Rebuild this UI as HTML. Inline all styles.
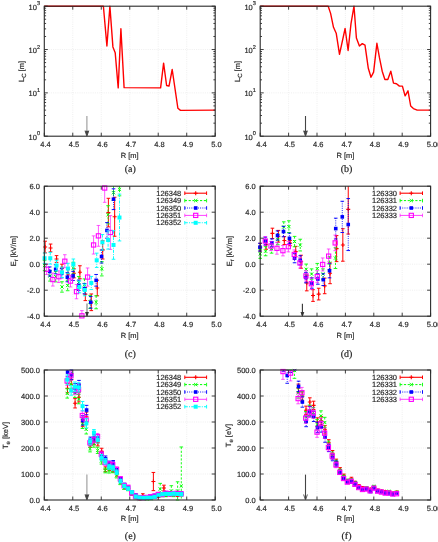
<!DOCTYPE html>
<html><head><meta charset="utf-8"><style>html,body{margin:0;padding:0;background:#fff;}text{stroke:#333;stroke-width:0.18px;}body{width:438px;height:542px;overflow:hidden;}svg{display:block;will-change:transform;filter:blur(0.3px);}</style></head><body><svg width="438" height="542" viewBox="0 0 438 542" text-rendering="geometricPrecision">
<rect width="438" height="542" fill="#fff"/>
<line x1="72.78" y1="6.20" x2="72.78" y2="136.20" stroke="#e4e4e4" stroke-width="0.6" stroke-dasharray="1,1.2"/>
<line x1="101.27" y1="6.20" x2="101.27" y2="136.20" stroke="#e4e4e4" stroke-width="0.6" stroke-dasharray="1,1.2"/>
<line x1="129.75" y1="6.20" x2="129.75" y2="136.20" stroke="#e4e4e4" stroke-width="0.6" stroke-dasharray="1,1.2"/>
<line x1="158.23" y1="6.20" x2="158.23" y2="136.20" stroke="#e4e4e4" stroke-width="0.6" stroke-dasharray="1,1.2"/>
<line x1="186.72" y1="6.20" x2="186.72" y2="136.20" stroke="#e4e4e4" stroke-width="0.6" stroke-dasharray="1,1.2"/>
<line x1="44.30" y1="92.87" x2="215.20" y2="92.87" stroke="#e4e4e4" stroke-width="0.6" stroke-dasharray="1,1.2"/>
<line x1="44.30" y1="49.53" x2="215.20" y2="49.53" stroke="#e4e4e4" stroke-width="0.6" stroke-dasharray="1,1.2"/>
<text x="45.50" y="146.80" font-family='"Liberation Sans", sans-serif' font-size="7.5" text-anchor="middle" fill="#222" >4.4</text>
<text x="73.98" y="146.80" font-family='"Liberation Sans", sans-serif' font-size="7.5" text-anchor="middle" fill="#222" >4.5</text>
<text x="102.47" y="146.80" font-family='"Liberation Sans", sans-serif' font-size="7.5" text-anchor="middle" fill="#222" >4.6</text>
<text x="130.95" y="146.80" font-family='"Liberation Sans", sans-serif' font-size="7.5" text-anchor="middle" fill="#222" >4.7</text>
<text x="159.43" y="146.80" font-family='"Liberation Sans", sans-serif' font-size="7.5" text-anchor="middle" fill="#222" >4.8</text>
<text x="187.92" y="146.80" font-family='"Liberation Sans", sans-serif' font-size="7.5" text-anchor="middle" fill="#222" >4.9</text>
<text x="216.40" y="146.80" font-family='"Liberation Sans", sans-serif' font-size="7.5" text-anchor="middle" fill="#222" >5.0</text>
<text x="40.00" y="139.70" font-family='"Liberation Sans", sans-serif' font-size="7.5" text-anchor="end" fill="#222">10<tspan font-size="5.6" dy="-4.3">0</tspan></text>
<text x="40.00" y="96.37" font-family='"Liberation Sans", sans-serif' font-size="7.5" text-anchor="end" fill="#222">10<tspan font-size="5.6" dy="-4.3">1</tspan></text>
<text x="40.00" y="53.03" font-family='"Liberation Sans", sans-serif' font-size="7.5" text-anchor="end" fill="#222">10<tspan font-size="5.6" dy="-4.3">2</tspan></text>
<text x="40.00" y="9.70" font-family='"Liberation Sans", sans-serif' font-size="7.5" text-anchor="end" fill="#222">10<tspan font-size="5.6" dy="-4.3">3</tspan></text>
<text x="129.75" y="157.60" font-family='"Liberation Sans", sans-serif' font-size="7.5" text-anchor="middle" fill="#222" >R [m]</text>
<line x1="288.60" y1="6.20" x2="288.60" y2="136.20" stroke="#e4e4e4" stroke-width="0.6" stroke-dasharray="1,1.2"/>
<line x1="317.00" y1="6.20" x2="317.00" y2="136.20" stroke="#e4e4e4" stroke-width="0.6" stroke-dasharray="1,1.2"/>
<line x1="345.40" y1="6.20" x2="345.40" y2="136.20" stroke="#e4e4e4" stroke-width="0.6" stroke-dasharray="1,1.2"/>
<line x1="373.80" y1="6.20" x2="373.80" y2="136.20" stroke="#e4e4e4" stroke-width="0.6" stroke-dasharray="1,1.2"/>
<line x1="402.20" y1="6.20" x2="402.20" y2="136.20" stroke="#e4e4e4" stroke-width="0.6" stroke-dasharray="1,1.2"/>
<line x1="260.20" y1="92.87" x2="430.60" y2="92.87" stroke="#e4e4e4" stroke-width="0.6" stroke-dasharray="1,1.2"/>
<line x1="260.20" y1="49.53" x2="430.60" y2="49.53" stroke="#e4e4e4" stroke-width="0.6" stroke-dasharray="1,1.2"/>
<text x="261.40" y="146.80" font-family='"Liberation Sans", sans-serif' font-size="7.5" text-anchor="middle" fill="#222" >4.4</text>
<text x="289.80" y="146.80" font-family='"Liberation Sans", sans-serif' font-size="7.5" text-anchor="middle" fill="#222" >4.5</text>
<text x="318.20" y="146.80" font-family='"Liberation Sans", sans-serif' font-size="7.5" text-anchor="middle" fill="#222" >4.6</text>
<text x="346.60" y="146.80" font-family='"Liberation Sans", sans-serif' font-size="7.5" text-anchor="middle" fill="#222" >4.7</text>
<text x="375.00" y="146.80" font-family='"Liberation Sans", sans-serif' font-size="7.5" text-anchor="middle" fill="#222" >4.8</text>
<text x="403.40" y="146.80" font-family='"Liberation Sans", sans-serif' font-size="7.5" text-anchor="middle" fill="#222" >4.9</text>
<text x="434.10" y="146.80" font-family='"Liberation Sans", sans-serif' font-size="7.5" text-anchor="middle" fill="#222" >5.00</text>
<text x="255.90" y="139.70" font-family='"Liberation Sans", sans-serif' font-size="7.5" text-anchor="end" fill="#222">10<tspan font-size="5.6" dy="-4.3">0</tspan></text>
<text x="255.90" y="96.37" font-family='"Liberation Sans", sans-serif' font-size="7.5" text-anchor="end" fill="#222">10<tspan font-size="5.6" dy="-4.3">1</tspan></text>
<text x="255.90" y="53.03" font-family='"Liberation Sans", sans-serif' font-size="7.5" text-anchor="end" fill="#222">10<tspan font-size="5.6" dy="-4.3">2</tspan></text>
<text x="255.90" y="9.70" font-family='"Liberation Sans", sans-serif' font-size="7.5" text-anchor="end" fill="#222">10<tspan font-size="5.6" dy="-4.3">3</tspan></text>
<text x="345.40" y="157.60" font-family='"Liberation Sans", sans-serif' font-size="7.5" text-anchor="middle" fill="#222" >R [m]</text>
<line x1="72.78" y1="186.20" x2="72.78" y2="316.20" stroke="#e4e4e4" stroke-width="0.6" stroke-dasharray="1,1.2"/>
<line x1="101.27" y1="186.20" x2="101.27" y2="316.20" stroke="#e4e4e4" stroke-width="0.6" stroke-dasharray="1,1.2"/>
<line x1="129.75" y1="186.20" x2="129.75" y2="316.20" stroke="#e4e4e4" stroke-width="0.6" stroke-dasharray="1,1.2"/>
<line x1="158.23" y1="186.20" x2="158.23" y2="316.20" stroke="#e4e4e4" stroke-width="0.6" stroke-dasharray="1,1.2"/>
<line x1="186.72" y1="186.20" x2="186.72" y2="316.20" stroke="#e4e4e4" stroke-width="0.6" stroke-dasharray="1,1.2"/>
<line x1="44.30" y1="290.20" x2="215.20" y2="290.20" stroke="#e4e4e4" stroke-width="0.6" stroke-dasharray="1,1.2"/>
<line x1="44.30" y1="264.20" x2="215.20" y2="264.20" stroke="#e4e4e4" stroke-width="0.6" stroke-dasharray="1,1.2"/>
<line x1="44.30" y1="238.20" x2="215.20" y2="238.20" stroke="#e4e4e4" stroke-width="0.6" stroke-dasharray="1,1.2"/>
<line x1="44.30" y1="212.20" x2="215.20" y2="212.20" stroke="#e4e4e4" stroke-width="0.6" stroke-dasharray="1,1.2"/>
<text x="45.50" y="326.80" font-family='"Liberation Sans", sans-serif' font-size="7.5" text-anchor="middle" fill="#222" >4.4</text>
<text x="73.98" y="326.80" font-family='"Liberation Sans", sans-serif' font-size="7.5" text-anchor="middle" fill="#222" >4.5</text>
<text x="102.47" y="326.80" font-family='"Liberation Sans", sans-serif' font-size="7.5" text-anchor="middle" fill="#222" >4.6</text>
<text x="130.95" y="326.80" font-family='"Liberation Sans", sans-serif' font-size="7.5" text-anchor="middle" fill="#222" >4.7</text>
<text x="159.43" y="326.80" font-family='"Liberation Sans", sans-serif' font-size="7.5" text-anchor="middle" fill="#222" >4.8</text>
<text x="187.92" y="326.80" font-family='"Liberation Sans", sans-serif' font-size="7.5" text-anchor="middle" fill="#222" >4.9</text>
<text x="216.40" y="326.80" font-family='"Liberation Sans", sans-serif' font-size="7.5" text-anchor="middle" fill="#222" >5.0</text>
<text x="39.90" y="319.40" font-family='"Liberation Sans", sans-serif' font-size="7.5" text-anchor="end" fill="#222" >-4.0</text>
<text x="39.90" y="293.40" font-family='"Liberation Sans", sans-serif' font-size="7.5" text-anchor="end" fill="#222" >-2.0</text>
<text x="39.90" y="267.40" font-family='"Liberation Sans", sans-serif' font-size="7.5" text-anchor="end" fill="#222" >0.0</text>
<text x="39.90" y="241.40" font-family='"Liberation Sans", sans-serif' font-size="7.5" text-anchor="end" fill="#222" >2.0</text>
<text x="39.90" y="215.40" font-family='"Liberation Sans", sans-serif' font-size="7.5" text-anchor="end" fill="#222" >4.0</text>
<text x="39.90" y="189.40" font-family='"Liberation Sans", sans-serif' font-size="7.5" text-anchor="end" fill="#222" >6.0</text>
<text x="129.75" y="337.60" font-family='"Liberation Sans", sans-serif' font-size="7.5" text-anchor="middle" fill="#222" >R [m]</text>
<line x1="288.60" y1="186.20" x2="288.60" y2="316.20" stroke="#e4e4e4" stroke-width="0.6" stroke-dasharray="1,1.2"/>
<line x1="317.00" y1="186.20" x2="317.00" y2="316.20" stroke="#e4e4e4" stroke-width="0.6" stroke-dasharray="1,1.2"/>
<line x1="345.40" y1="186.20" x2="345.40" y2="316.20" stroke="#e4e4e4" stroke-width="0.6" stroke-dasharray="1,1.2"/>
<line x1="373.80" y1="186.20" x2="373.80" y2="316.20" stroke="#e4e4e4" stroke-width="0.6" stroke-dasharray="1,1.2"/>
<line x1="402.20" y1="186.20" x2="402.20" y2="316.20" stroke="#e4e4e4" stroke-width="0.6" stroke-dasharray="1,1.2"/>
<line x1="260.20" y1="290.20" x2="430.60" y2="290.20" stroke="#e4e4e4" stroke-width="0.6" stroke-dasharray="1,1.2"/>
<line x1="260.20" y1="264.20" x2="430.60" y2="264.20" stroke="#e4e4e4" stroke-width="0.6" stroke-dasharray="1,1.2"/>
<line x1="260.20" y1="238.20" x2="430.60" y2="238.20" stroke="#e4e4e4" stroke-width="0.6" stroke-dasharray="1,1.2"/>
<line x1="260.20" y1="212.20" x2="430.60" y2="212.20" stroke="#e4e4e4" stroke-width="0.6" stroke-dasharray="1,1.2"/>
<text x="261.40" y="326.80" font-family='"Liberation Sans", sans-serif' font-size="7.5" text-anchor="middle" fill="#222" >4.4</text>
<text x="289.80" y="326.80" font-family='"Liberation Sans", sans-serif' font-size="7.5" text-anchor="middle" fill="#222" >4.5</text>
<text x="318.20" y="326.80" font-family='"Liberation Sans", sans-serif' font-size="7.5" text-anchor="middle" fill="#222" >4.6</text>
<text x="346.60" y="326.80" font-family='"Liberation Sans", sans-serif' font-size="7.5" text-anchor="middle" fill="#222" >4.7</text>
<text x="375.00" y="326.80" font-family='"Liberation Sans", sans-serif' font-size="7.5" text-anchor="middle" fill="#222" >4.8</text>
<text x="403.40" y="326.80" font-family='"Liberation Sans", sans-serif' font-size="7.5" text-anchor="middle" fill="#222" >4.9</text>
<text x="434.10" y="326.80" font-family='"Liberation Sans", sans-serif' font-size="7.5" text-anchor="middle" fill="#222" >5.00</text>
<text x="255.80" y="319.40" font-family='"Liberation Sans", sans-serif' font-size="7.5" text-anchor="end" fill="#222" >-4.0</text>
<text x="255.80" y="293.40" font-family='"Liberation Sans", sans-serif' font-size="7.5" text-anchor="end" fill="#222" >-2.0</text>
<text x="255.80" y="267.40" font-family='"Liberation Sans", sans-serif' font-size="7.5" text-anchor="end" fill="#222" >0.0</text>
<text x="255.80" y="241.40" font-family='"Liberation Sans", sans-serif' font-size="7.5" text-anchor="end" fill="#222" >2.0</text>
<text x="255.80" y="215.40" font-family='"Liberation Sans", sans-serif' font-size="7.5" text-anchor="end" fill="#222" >4.0</text>
<text x="255.80" y="189.40" font-family='"Liberation Sans", sans-serif' font-size="7.5" text-anchor="end" fill="#222" >6.0</text>
<text x="345.40" y="337.60" font-family='"Liberation Sans", sans-serif' font-size="7.5" text-anchor="middle" fill="#222" >R [m]</text>
<line x1="72.78" y1="370.00" x2="72.78" y2="500.00" stroke="#e4e4e4" stroke-width="0.6" stroke-dasharray="1,1.2"/>
<line x1="101.27" y1="370.00" x2="101.27" y2="500.00" stroke="#e4e4e4" stroke-width="0.6" stroke-dasharray="1,1.2"/>
<line x1="129.75" y1="370.00" x2="129.75" y2="500.00" stroke="#e4e4e4" stroke-width="0.6" stroke-dasharray="1,1.2"/>
<line x1="158.23" y1="370.00" x2="158.23" y2="500.00" stroke="#e4e4e4" stroke-width="0.6" stroke-dasharray="1,1.2"/>
<line x1="186.72" y1="370.00" x2="186.72" y2="500.00" stroke="#e4e4e4" stroke-width="0.6" stroke-dasharray="1,1.2"/>
<line x1="44.30" y1="474.00" x2="215.20" y2="474.00" stroke="#e4e4e4" stroke-width="0.6" stroke-dasharray="1,1.2"/>
<line x1="44.30" y1="448.00" x2="215.20" y2="448.00" stroke="#e4e4e4" stroke-width="0.6" stroke-dasharray="1,1.2"/>
<line x1="44.30" y1="422.00" x2="215.20" y2="422.00" stroke="#e4e4e4" stroke-width="0.6" stroke-dasharray="1,1.2"/>
<line x1="44.30" y1="396.00" x2="215.20" y2="396.00" stroke="#e4e4e4" stroke-width="0.6" stroke-dasharray="1,1.2"/>
<text x="45.50" y="510.60" font-family='"Liberation Sans", sans-serif' font-size="7.5" text-anchor="middle" fill="#222" >4.4</text>
<text x="73.98" y="510.60" font-family='"Liberation Sans", sans-serif' font-size="7.5" text-anchor="middle" fill="#222" >4.5</text>
<text x="102.47" y="510.60" font-family='"Liberation Sans", sans-serif' font-size="7.5" text-anchor="middle" fill="#222" >4.6</text>
<text x="130.95" y="510.60" font-family='"Liberation Sans", sans-serif' font-size="7.5" text-anchor="middle" fill="#222" >4.7</text>
<text x="159.43" y="510.60" font-family='"Liberation Sans", sans-serif' font-size="7.5" text-anchor="middle" fill="#222" >4.8</text>
<text x="187.92" y="510.60" font-family='"Liberation Sans", sans-serif' font-size="7.5" text-anchor="middle" fill="#222" >4.9</text>
<text x="216.40" y="510.60" font-family='"Liberation Sans", sans-serif' font-size="7.5" text-anchor="middle" fill="#222" >5.0</text>
<text x="39.90" y="503.20" font-family='"Liberation Sans", sans-serif' font-size="7.5" text-anchor="end" fill="#222" >0.0</text>
<text x="39.90" y="477.20" font-family='"Liberation Sans", sans-serif' font-size="7.5" text-anchor="end" fill="#222" >100.0</text>
<text x="39.90" y="451.20" font-family='"Liberation Sans", sans-serif' font-size="7.5" text-anchor="end" fill="#222" >200.0</text>
<text x="39.90" y="425.20" font-family='"Liberation Sans", sans-serif' font-size="7.5" text-anchor="end" fill="#222" >300.0</text>
<text x="39.90" y="399.20" font-family='"Liberation Sans", sans-serif' font-size="7.5" text-anchor="end" fill="#222" >400.0</text>
<text x="39.90" y="373.20" font-family='"Liberation Sans", sans-serif' font-size="7.5" text-anchor="end" fill="#222" >500.0</text>
<text x="129.75" y="521.40" font-family='"Liberation Sans", sans-serif' font-size="7.5" text-anchor="middle" fill="#222" >R [m]</text>
<line x1="288.60" y1="370.00" x2="288.60" y2="500.00" stroke="#e4e4e4" stroke-width="0.6" stroke-dasharray="1,1.2"/>
<line x1="317.00" y1="370.00" x2="317.00" y2="500.00" stroke="#e4e4e4" stroke-width="0.6" stroke-dasharray="1,1.2"/>
<line x1="345.40" y1="370.00" x2="345.40" y2="500.00" stroke="#e4e4e4" stroke-width="0.6" stroke-dasharray="1,1.2"/>
<line x1="373.80" y1="370.00" x2="373.80" y2="500.00" stroke="#e4e4e4" stroke-width="0.6" stroke-dasharray="1,1.2"/>
<line x1="402.20" y1="370.00" x2="402.20" y2="500.00" stroke="#e4e4e4" stroke-width="0.6" stroke-dasharray="1,1.2"/>
<line x1="260.20" y1="474.00" x2="430.60" y2="474.00" stroke="#e4e4e4" stroke-width="0.6" stroke-dasharray="1,1.2"/>
<line x1="260.20" y1="448.00" x2="430.60" y2="448.00" stroke="#e4e4e4" stroke-width="0.6" stroke-dasharray="1,1.2"/>
<line x1="260.20" y1="422.00" x2="430.60" y2="422.00" stroke="#e4e4e4" stroke-width="0.6" stroke-dasharray="1,1.2"/>
<line x1="260.20" y1="396.00" x2="430.60" y2="396.00" stroke="#e4e4e4" stroke-width="0.6" stroke-dasharray="1,1.2"/>
<text x="261.40" y="510.60" font-family='"Liberation Sans", sans-serif' font-size="7.5" text-anchor="middle" fill="#222" >4.4</text>
<text x="289.80" y="510.60" font-family='"Liberation Sans", sans-serif' font-size="7.5" text-anchor="middle" fill="#222" >4.5</text>
<text x="318.20" y="510.60" font-family='"Liberation Sans", sans-serif' font-size="7.5" text-anchor="middle" fill="#222" >4.6</text>
<text x="346.60" y="510.60" font-family='"Liberation Sans", sans-serif' font-size="7.5" text-anchor="middle" fill="#222" >4.7</text>
<text x="375.00" y="510.60" font-family='"Liberation Sans", sans-serif' font-size="7.5" text-anchor="middle" fill="#222" >4.8</text>
<text x="403.40" y="510.60" font-family='"Liberation Sans", sans-serif' font-size="7.5" text-anchor="middle" fill="#222" >4.9</text>
<text x="434.10" y="510.60" font-family='"Liberation Sans", sans-serif' font-size="7.5" text-anchor="middle" fill="#222" >5.00</text>
<text x="255.80" y="503.20" font-family='"Liberation Sans", sans-serif' font-size="7.5" text-anchor="end" fill="#222" >0.0</text>
<text x="255.80" y="477.20" font-family='"Liberation Sans", sans-serif' font-size="7.5" text-anchor="end" fill="#222" >100.0</text>
<text x="255.80" y="451.20" font-family='"Liberation Sans", sans-serif' font-size="7.5" text-anchor="end" fill="#222" >200.0</text>
<text x="255.80" y="425.20" font-family='"Liberation Sans", sans-serif' font-size="7.5" text-anchor="end" fill="#222" >300.0</text>
<text x="255.80" y="399.20" font-family='"Liberation Sans", sans-serif' font-size="7.5" text-anchor="end" fill="#222" >400.0</text>
<text x="255.80" y="373.20" font-family='"Liberation Sans", sans-serif' font-size="7.5" text-anchor="end" fill="#222" >500.0</text>
<text x="345.40" y="521.40" font-family='"Liberation Sans", sans-serif' font-size="7.5" text-anchor="middle" fill="#222" >R [m]</text>
<defs>
<clipPath id="cla"><rect x="41.3" y="3.2" width="176.89999999999998" height="136.0"/></clipPath>
<clipPath id="clb"><rect x="257.2" y="3.2" width="176.40000000000003" height="136.0"/></clipPath>
<clipPath id="clc"><rect x="41.3" y="183.2" width="176.89999999999998" height="136.0"/></clipPath>
<clipPath id="cld"><rect x="257.2" y="183.2" width="176.40000000000003" height="136.0"/></clipPath>
<clipPath id="cle"><rect x="41.3" y="367.0" width="176.89999999999998" height="136.0"/></clipPath>
<clipPath id="clf"><rect x="257.2" y="367.0" width="176.40000000000003" height="136.0"/></clipPath>
</defs>
<g clip-path="url(#cla)">
<polyline points="44.3,6.2 103.4,6.2 106.9,46.0 109.9,6.2 112.9,46.9 115.2,52.8 118.2,87.9 120.9,28.8 124.1,87.6 160.6,87.9 163.6,63.2 166.6,85.5 169.0,86.1 172.2,69.5 177.9,108.3 180.5,110.4 215.2,110.1" fill="none" stroke="#ff0000" stroke-width="1.4" stroke-linejoin="round"/>
</g>
<g clip-path="url(#clb)">
<polyline points="260.2,6.2 328.2,6.2 330.6,13.4 333.5,27.3 336.2,33.2 339.5,54.3 345.1,28.5 348.1,50.5 351.0,23.7 354.0,6.2 356.4,38.0 359.4,46.0 362.3,43.6 365.0,45.1 368.3,68.3 371.0,77.2 373.6,72.1 376.9,43.3 379.5,57.9 382.2,71.2 384.9,79.5 387.8,79.5 390.8,71.2 393.5,83.1 396.5,83.7 399.4,86.1 402.4,86.1 405.1,95.9 408.0,90.8 410.7,106.0 413.4,108.6 417.2,110.1 430.6,110.1" fill="none" stroke="#ff0000" stroke-width="1.4" stroke-linejoin="round"/>
</g>
<g clip-path="url(#clc)">
<path d="M45.15 241.19V252.89" stroke="#ff0000" stroke-width="1.0"  fill="none"/>
<path d="M43.35 241.19h3.6M43.35 252.89h3.6" stroke="#ff0000" stroke-width="1.0" fill="none"/>
<path d="M50.57 244.05V251.85" stroke="#ff0000" stroke-width="1.0"  fill="none"/>
<path d="M48.77 244.05h3.6M48.77 251.85h3.6" stroke="#ff0000" stroke-width="1.0" fill="none"/>
<path d="M56.55 255.62V262.38" stroke="#ff0000" stroke-width="1.0"  fill="none"/>
<path d="M54.75 255.62h3.6M54.75 262.38h3.6" stroke="#ff0000" stroke-width="1.0" fill="none"/>
<path d="M61.96 264.20V272.00" stroke="#ff0000" stroke-width="1.0"  fill="none"/>
<path d="M60.16 264.20h3.6M60.16 272.00h3.6" stroke="#ff0000" stroke-width="1.0" fill="none"/>
<path d="M67.94 269.40V278.50" stroke="#ff0000" stroke-width="1.0"  fill="none"/>
<path d="M66.14 269.40h3.6M66.14 278.50h3.6" stroke="#ff0000" stroke-width="1.0" fill="none"/>
<path d="M73.92 268.75V277.85" stroke="#ff0000" stroke-width="1.0"  fill="none"/>
<path d="M72.12 268.75h3.6M72.12 277.85h3.6" stroke="#ff0000" stroke-width="1.0" fill="none"/>
<path d="M79.90 265.76V278.76" stroke="#ff0000" stroke-width="1.0"  fill="none"/>
<path d="M78.10 265.76h3.6M78.10 278.76h3.6" stroke="#ff0000" stroke-width="1.0" fill="none"/>
<path d="M85.32 287.60V300.60" stroke="#ff0000" stroke-width="1.0"  fill="none"/>
<path d="M83.52 287.60h3.6M83.52 300.60h3.6" stroke="#ff0000" stroke-width="1.0" fill="none"/>
<path d="M91.30 293.97V310.61" stroke="#ff0000" stroke-width="1.0"  fill="none"/>
<path d="M89.50 293.97h3.6M89.50 310.61h3.6" stroke="#ff0000" stroke-width="1.0" fill="none"/>
<path d="M97.28 280.19V295.79" stroke="#ff0000" stroke-width="1.0"  fill="none"/>
<path d="M95.48 280.19h3.6M95.48 295.79h3.6" stroke="#ff0000" stroke-width="1.0" fill="none"/>
<path d="M102.69 240.80V259.00" stroke="#ff0000" stroke-width="1.0"  fill="none"/>
<path d="M100.89 240.80h3.6M100.89 259.00h3.6" stroke="#ff0000" stroke-width="1.0" fill="none"/>
<path d="M108.39 198.29V226.89" stroke="#ff0000" stroke-width="1.0"  fill="none"/>
<path d="M106.59 198.29h3.6M106.59 226.89h3.6" stroke="#ff0000" stroke-width="1.0" fill="none"/>
<path d="M114.65 197.25V236.25" stroke="#ff0000" stroke-width="1.0"  fill="none"/>
<path d="M112.85 197.25h3.6M112.85 236.25h3.6" stroke="#ff0000" stroke-width="1.0" fill="none"/>
<path d="M43.15 247.04h4M45.15 245.04v4" stroke="#ff0000" stroke-width="1.1"/>
<path d="M48.57 247.95h4M50.57 245.95v4" stroke="#ff0000" stroke-width="1.1"/>
<path d="M54.55 259.00h4M56.55 257.00v4" stroke="#ff0000" stroke-width="1.1"/>
<path d="M59.96 268.10h4M61.96 266.10v4" stroke="#ff0000" stroke-width="1.1"/>
<path d="M65.94 273.95h4M67.94 271.95v4" stroke="#ff0000" stroke-width="1.1"/>
<path d="M71.92 273.30h4M73.92 271.30v4" stroke="#ff0000" stroke-width="1.1"/>
<path d="M77.90 272.26h4M79.90 270.26v4" stroke="#ff0000" stroke-width="1.1"/>
<path d="M83.32 294.10h4M85.32 292.10v4" stroke="#ff0000" stroke-width="1.1"/>
<path d="M89.30 302.29h4M91.30 300.29v4" stroke="#ff0000" stroke-width="1.1"/>
<path d="M95.28 287.99h4M97.28 285.99v4" stroke="#ff0000" stroke-width="1.1"/>
<path d="M100.69 249.90h4M102.69 247.90v4" stroke="#ff0000" stroke-width="1.1"/>
<path d="M106.39 212.59h4M108.39 210.59v4" stroke="#ff0000" stroke-width="1.1"/>
<path d="M112.65 216.75h4M114.65 214.75v4" stroke="#ff0000" stroke-width="1.1"/>
<path d="M44.58 260.30V270.70" stroke="#00ff00" stroke-width="0.9" stroke-dasharray="2.2,1.6" fill="none"/>
<path d="M42.78 260.30h3.6M42.78 270.70h3.6" stroke="#00ff00" stroke-width="0.9" fill="none"/>
<path d="M50.00 270.70V281.10" stroke="#00ff00" stroke-width="0.9" stroke-dasharray="2.2,1.6" fill="none"/>
<path d="M48.20 270.70h3.6M48.20 281.10h3.6" stroke="#00ff00" stroke-width="0.9" fill="none"/>
<path d="M55.69 271.48V281.88" stroke="#00ff00" stroke-width="0.9" stroke-dasharray="2.2,1.6" fill="none"/>
<path d="M53.89 271.48h3.6M53.89 281.88h3.6" stroke="#00ff00" stroke-width="0.9" fill="none"/>
<path d="M61.96 281.75V292.15" stroke="#00ff00" stroke-width="0.9" stroke-dasharray="2.2,1.6" fill="none"/>
<path d="M60.16 281.75h3.6M60.16 292.15h3.6" stroke="#00ff00" stroke-width="0.9" fill="none"/>
<path d="M67.66 280.32V290.72" stroke="#00ff00" stroke-width="0.9" stroke-dasharray="2.2,1.6" fill="none"/>
<path d="M65.86 280.32h3.6M65.86 290.72h3.6" stroke="#00ff00" stroke-width="0.9" fill="none"/>
<path d="M73.35 262.25V273.95" stroke="#00ff00" stroke-width="0.9" stroke-dasharray="2.2,1.6" fill="none"/>
<path d="M71.55 262.25h3.6M71.55 273.95h3.6" stroke="#00ff00" stroke-width="0.9" fill="none"/>
<path d="M78.76 276.55V288.25" stroke="#00ff00" stroke-width="0.9" stroke-dasharray="2.2,1.6" fill="none"/>
<path d="M76.96 276.55h3.6M76.96 288.25h3.6" stroke="#00ff00" stroke-width="0.9" fill="none"/>
<path d="M84.46 278.89V290.59" stroke="#00ff00" stroke-width="0.9" stroke-dasharray="2.2,1.6" fill="none"/>
<path d="M82.66 278.89h3.6M82.66 290.59h3.6" stroke="#00ff00" stroke-width="0.9" fill="none"/>
<path d="M90.16 295.40V308.40" stroke="#00ff00" stroke-width="0.9" stroke-dasharray="2.2,1.6" fill="none"/>
<path d="M88.36 295.40h3.6M88.36 308.40h3.6" stroke="#00ff00" stroke-width="0.9" fill="none"/>
<path d="M96.14 295.79V308.79" stroke="#00ff00" stroke-width="0.9" stroke-dasharray="2.2,1.6" fill="none"/>
<path d="M94.34 295.79h3.6M94.34 308.79h3.6" stroke="#00ff00" stroke-width="0.9" fill="none"/>
<path d="M101.84 261.60V275.90" stroke="#00ff00" stroke-width="0.9" stroke-dasharray="2.2,1.6" fill="none"/>
<path d="M100.04 261.60h3.6M100.04 275.90h3.6" stroke="#00ff00" stroke-width="0.9" fill="none"/>
<path d="M108.10 205.70V223.90" stroke="#00ff00" stroke-width="0.9" stroke-dasharray="2.2,1.6" fill="none"/>
<path d="M106.30 205.70h3.6M106.30 223.90h3.6" stroke="#00ff00" stroke-width="0.9" fill="none"/>
<path d="M113.51 186.20V200.50" stroke="#00ff00" stroke-width="0.9" stroke-dasharray="2.2,1.6" fill="none"/>
<path d="M111.71 200.50h3.6" stroke="#00ff00" stroke-width="0.9" fill="none"/>
<path d="M119.50 186.20V195.82" stroke="#00ff00" stroke-width="0.9" stroke-dasharray="2.2,1.6" fill="none"/>
<path d="M117.70 195.82h3.6" stroke="#00ff00" stroke-width="0.9" fill="none"/>
<path d="M42.98 263.90l3.2 3.2M42.98 267.10l3.2 -3.2" stroke="#00ff00" stroke-width="1.0"/>
<path d="M48.40 274.30l3.2 3.2M48.40 277.50l3.2 -3.2" stroke="#00ff00" stroke-width="1.0"/>
<path d="M54.09 275.08l3.2 3.2M54.09 278.28l3.2 -3.2" stroke="#00ff00" stroke-width="1.0"/>
<path d="M60.36 285.35l3.2 3.2M60.36 288.55l3.2 -3.2" stroke="#00ff00" stroke-width="1.0"/>
<path d="M66.06 283.92l3.2 3.2M66.06 287.12l3.2 -3.2" stroke="#00ff00" stroke-width="1.0"/>
<path d="M71.75 266.50l3.2 3.2M71.75 269.70l3.2 -3.2" stroke="#00ff00" stroke-width="1.0"/>
<path d="M77.16 280.80l3.2 3.2M77.16 284.00l3.2 -3.2" stroke="#00ff00" stroke-width="1.0"/>
<path d="M82.86 283.14l3.2 3.2M82.86 286.34l3.2 -3.2" stroke="#00ff00" stroke-width="1.0"/>
<path d="M88.56 300.30l3.2 3.2M88.56 303.50l3.2 -3.2" stroke="#00ff00" stroke-width="1.0"/>
<path d="M94.54 300.69l3.2 3.2M94.54 303.89l3.2 -3.2" stroke="#00ff00" stroke-width="1.0"/>
<path d="M100.24 267.15l3.2 3.2M100.24 270.35l3.2 -3.2" stroke="#00ff00" stroke-width="1.0"/>
<path d="M106.50 213.20l3.2 3.2M106.50 216.40l3.2 -3.2" stroke="#00ff00" stroke-width="1.0"/>
<path d="M111.91 191.10l3.2 3.2M111.91 194.30l3.2 -3.2" stroke="#00ff00" stroke-width="1.0"/>
<path d="M117.90 187.72l3.2 3.2M117.90 190.92l3.2 -3.2" stroke="#00ff00" stroke-width="1.0"/>
<path d="M49.71 266.93V276.03" stroke="#0000ff" stroke-width="0.95" stroke-dasharray="0.9,1.3" fill="none"/>
<path d="M47.91 266.93h3.6M47.91 276.03h3.6" stroke="#0000ff" stroke-width="0.95" fill="none"/>
<path d="M55.69 264.72V273.82" stroke="#0000ff" stroke-width="0.95" stroke-dasharray="0.9,1.3" fill="none"/>
<path d="M53.89 264.72h3.6M53.89 273.82h3.6" stroke="#0000ff" stroke-width="0.95" fill="none"/>
<path d="M61.67 268.75V277.85" stroke="#0000ff" stroke-width="0.95" stroke-dasharray="0.9,1.3" fill="none"/>
<path d="M59.87 268.75h3.6M59.87 277.85h3.6" stroke="#0000ff" stroke-width="0.95" fill="none"/>
<path d="M67.37 272.65V281.75" stroke="#0000ff" stroke-width="0.95" stroke-dasharray="0.9,1.3" fill="none"/>
<path d="M65.57 272.65h3.6M65.57 281.75h3.6" stroke="#0000ff" stroke-width="0.95" fill="none"/>
<path d="M73.07 271.35V280.45" stroke="#0000ff" stroke-width="0.95" stroke-dasharray="0.9,1.3" fill="none"/>
<path d="M71.27 271.35h3.6M71.27 280.45h3.6" stroke="#0000ff" stroke-width="0.95" fill="none"/>
<path d="M78.76 280.06V290.46" stroke="#0000ff" stroke-width="0.95" stroke-dasharray="0.9,1.3" fill="none"/>
<path d="M76.96 280.06h3.6M76.96 290.46h3.6" stroke="#0000ff" stroke-width="0.95" fill="none"/>
<path d="M84.46 283.44V293.84" stroke="#0000ff" stroke-width="0.95" stroke-dasharray="0.9,1.3" fill="none"/>
<path d="M82.66 283.44h3.6M82.66 293.84h3.6" stroke="#0000ff" stroke-width="0.95" fill="none"/>
<path d="M90.73 296.44V308.14" stroke="#0000ff" stroke-width="0.95" stroke-dasharray="0.9,1.3" fill="none"/>
<path d="M88.93 296.44h3.6M88.93 308.14h3.6" stroke="#0000ff" stroke-width="0.95" fill="none"/>
<path d="M96.14 274.47V286.17" stroke="#0000ff" stroke-width="0.95" stroke-dasharray="0.9,1.3" fill="none"/>
<path d="M94.34 274.47h3.6M94.34 286.17h3.6" stroke="#0000ff" stroke-width="0.95" fill="none"/>
<path d="M101.55 250.03V263.03" stroke="#0000ff" stroke-width="0.95" stroke-dasharray="0.9,1.3" fill="none"/>
<path d="M99.75 250.03h3.6M99.75 263.03h3.6" stroke="#0000ff" stroke-width="0.95" fill="none"/>
<path d="M106.96 222.60V238.20" stroke="#0000ff" stroke-width="0.95" stroke-dasharray="0.9,1.3" fill="none"/>
<path d="M105.16 222.60h3.6M105.16 238.20h3.6" stroke="#0000ff" stroke-width="0.95" fill="none"/>
<path d="M113.51 188.80V209.60" stroke="#0000ff" stroke-width="0.95" stroke-dasharray="0.9,1.3" fill="none"/>
<path d="M111.71 188.80h3.6M111.71 209.60h3.6" stroke="#0000ff" stroke-width="0.95" fill="none"/>
<rect x="47.91" y="269.68" width="3.6" height="3.6" fill="#0000ff"/>
<rect x="53.89" y="267.47" width="3.6" height="3.6" fill="#0000ff"/>
<rect x="59.87" y="271.50" width="3.6" height="3.6" fill="#0000ff"/>
<rect x="65.57" y="275.40" width="3.6" height="3.6" fill="#0000ff"/>
<rect x="71.27" y="274.10" width="3.6" height="3.6" fill="#0000ff"/>
<rect x="76.96" y="283.46" width="3.6" height="3.6" fill="#0000ff"/>
<rect x="82.66" y="286.84" width="3.6" height="3.6" fill="#0000ff"/>
<rect x="88.93" y="300.49" width="3.6" height="3.6" fill="#0000ff"/>
<rect x="94.34" y="278.52" width="3.6" height="3.6" fill="#0000ff"/>
<rect x="99.75" y="254.73" width="3.6" height="3.6" fill="#0000ff"/>
<rect x="105.16" y="228.60" width="3.6" height="3.6" fill="#0000ff"/>
<rect x="111.71" y="197.40" width="3.6" height="3.6" fill="#0000ff"/>
<path d="M46.58 264.07V274.47" stroke="#ff00ff" stroke-width="0.65"  fill="none"/>
<path d="M44.78 264.07h3.6M44.78 274.47h3.6" stroke="#ff00ff" stroke-width="0.65" fill="none"/>
<path d="M52.84 273.04V286.04" stroke="#ff00ff" stroke-width="0.65"  fill="none"/>
<path d="M51.04 273.04h3.6M51.04 286.04h3.6" stroke="#ff00ff" stroke-width="0.65" fill="none"/>
<path d="M58.83 270.83V282.53" stroke="#ff00ff" stroke-width="0.65"  fill="none"/>
<path d="M57.03 270.83h3.6M57.03 282.53h3.6" stroke="#ff00ff" stroke-width="0.65" fill="none"/>
<path d="M64.81 254.71V267.71" stroke="#ff00ff" stroke-width="0.65"  fill="none"/>
<path d="M63.01 254.71h3.6M63.01 267.71h3.6" stroke="#ff00ff" stroke-width="0.65" fill="none"/>
<path d="M70.50 275.25V286.95" stroke="#ff00ff" stroke-width="0.65"  fill="none"/>
<path d="M68.70 275.25h3.6M68.70 286.95h3.6" stroke="#ff00ff" stroke-width="0.65" fill="none"/>
<path d="M76.49 284.48V298.78" stroke="#ff00ff" stroke-width="0.65"  fill="none"/>
<path d="M74.69 284.48h3.6M74.69 298.78h3.6" stroke="#ff00ff" stroke-width="0.65" fill="none"/>
<path d="M81.90 310.61V316.20" stroke="#ff00ff" stroke-width="0.65"  fill="none"/>
<path d="M80.10 310.61h3.6" stroke="#ff00ff" stroke-width="0.65" fill="none"/>
<path d="M87.59 267.97V286.17" stroke="#ff00ff" stroke-width="0.65"  fill="none"/>
<path d="M85.79 267.97h3.6M85.79 286.17h3.6" stroke="#ff00ff" stroke-width="0.65" fill="none"/>
<path d="M93.58 235.86V254.06" stroke="#ff00ff" stroke-width="0.65"  fill="none"/>
<path d="M91.78 235.86h3.6M91.78 254.06h3.6" stroke="#ff00ff" stroke-width="0.65" fill="none"/>
<path d="M98.42 225.46V246.26" stroke="#ff00ff" stroke-width="0.65"  fill="none"/>
<path d="M96.62 225.46h3.6M96.62 246.26h3.6" stroke="#ff00ff" stroke-width="0.65" fill="none"/>
<path d="M104.68 186.20V202.32" stroke="#ff00ff" stroke-width="0.65"  fill="none"/>
<path d="M102.88 202.32h3.6" stroke="#ff00ff" stroke-width="0.65" fill="none"/>
<path d="M110.38 215.58V249.38" stroke="#ff00ff" stroke-width="0.65"  fill="none"/>
<path d="M108.58 215.58h3.6M108.58 249.38h3.6" stroke="#ff00ff" stroke-width="0.65" fill="none"/>
<rect x="44.48" y="267.17" width="4.2" height="4.2" fill="none" stroke="#ff00ff" stroke-width="1.1"/>
<rect x="50.74" y="277.44" width="4.2" height="4.2" fill="none" stroke="#ff00ff" stroke-width="1.1"/>
<rect x="56.73" y="274.58" width="4.2" height="4.2" fill="none" stroke="#ff00ff" stroke-width="1.1"/>
<rect x="62.71" y="259.11" width="4.2" height="4.2" fill="none" stroke="#ff00ff" stroke-width="1.1"/>
<rect x="68.40" y="279.00" width="4.2" height="4.2" fill="none" stroke="#ff00ff" stroke-width="1.1"/>
<rect x="74.39" y="289.53" width="4.2" height="4.2" fill="none" stroke="#ff00ff" stroke-width="1.1"/>
<rect x="79.80" y="313.71" width="4.2" height="4.2" fill="none" stroke="#ff00ff" stroke-width="1.1"/>
<rect x="85.49" y="274.97" width="4.2" height="4.2" fill="none" stroke="#ff00ff" stroke-width="1.1"/>
<rect x="91.48" y="242.86" width="4.2" height="4.2" fill="none" stroke="#ff00ff" stroke-width="1.1"/>
<rect x="96.32" y="233.76" width="4.2" height="4.2" fill="none" stroke="#ff00ff" stroke-width="1.1"/>
<rect x="102.58" y="185.92" width="4.2" height="4.2" fill="none" stroke="#ff00ff" stroke-width="1.1"/>
<rect x="108.28" y="230.38" width="4.2" height="4.2" fill="none" stroke="#ff00ff" stroke-width="1.1"/>
<path d="M44.58 253.02V263.42" stroke="#00ffff" stroke-width="0.95" stroke-dasharray="3,1.2,1,1.2" fill="none"/>
<path d="M42.78 253.02h3.6M42.78 263.42h3.6" stroke="#00ffff" stroke-width="0.95" fill="none"/>
<path d="M50.28 252.37V264.07" stroke="#00ffff" stroke-width="0.95" stroke-dasharray="3,1.2,1,1.2" fill="none"/>
<path d="M48.48 252.37h3.6M48.48 264.07h3.6" stroke="#00ffff" stroke-width="0.95" fill="none"/>
<path d="M56.55 260.30V270.70" stroke="#00ffff" stroke-width="0.95" stroke-dasharray="3,1.2,1,1.2" fill="none"/>
<path d="M54.75 260.30h3.6M54.75 270.70h3.6" stroke="#00ffff" stroke-width="0.95" fill="none"/>
<path d="M61.96 267.06V277.46" stroke="#00ffff" stroke-width="0.95" stroke-dasharray="3,1.2,1,1.2" fill="none"/>
<path d="M60.16 267.06h3.6M60.16 277.46h3.6" stroke="#00ffff" stroke-width="0.95" fill="none"/>
<path d="M67.94 263.29V273.69" stroke="#00ffff" stroke-width="0.95" stroke-dasharray="3,1.2,1,1.2" fill="none"/>
<path d="M66.14 263.29h3.6M66.14 273.69h3.6" stroke="#00ffff" stroke-width="0.95" fill="none"/>
<path d="M73.35 259.00V269.40" stroke="#00ffff" stroke-width="0.95" stroke-dasharray="3,1.2,1,1.2" fill="none"/>
<path d="M71.55 259.00h3.6M71.55 269.40h3.6" stroke="#00ffff" stroke-width="0.95" fill="none"/>
<path d="M79.33 281.10V292.80" stroke="#00ffff" stroke-width="0.95" stroke-dasharray="3,1.2,1,1.2" fill="none"/>
<path d="M77.53 281.10h3.6M77.53 292.80h3.6" stroke="#00ffff" stroke-width="0.95" fill="none"/>
<path d="M84.75 284.09V295.79" stroke="#00ffff" stroke-width="0.95" stroke-dasharray="3,1.2,1,1.2" fill="none"/>
<path d="M82.95 284.09h3.6M82.95 295.79h3.6" stroke="#00ffff" stroke-width="0.95" fill="none"/>
<path d="M91.30 276.42V289.42" stroke="#00ffff" stroke-width="0.95" stroke-dasharray="3,1.2,1,1.2" fill="none"/>
<path d="M89.50 276.42h3.6M89.50 289.42h3.6" stroke="#00ffff" stroke-width="0.95" fill="none"/>
<path d="M96.71 253.15V267.45" stroke="#00ffff" stroke-width="0.95" stroke-dasharray="3,1.2,1,1.2" fill="none"/>
<path d="M94.91 253.15h3.6M94.91 267.45h3.6" stroke="#00ffff" stroke-width="0.95" fill="none"/>
<path d="M102.41 234.56V250.16" stroke="#00ffff" stroke-width="0.95" stroke-dasharray="3,1.2,1,1.2" fill="none"/>
<path d="M100.61 234.56h3.6M100.61 250.16h3.6" stroke="#00ffff" stroke-width="0.95" fill="none"/>
<path d="M108.10 230.92V249.12" stroke="#00ffff" stroke-width="0.95" stroke-dasharray="3,1.2,1,1.2" fill="none"/>
<path d="M106.30 230.92h3.6M106.30 249.12h3.6" stroke="#00ffff" stroke-width="0.95" fill="none"/>
<path d="M113.51 230.66V259.26" stroke="#00ffff" stroke-width="0.95" stroke-dasharray="3,1.2,1,1.2" fill="none"/>
<path d="M111.71 230.66h3.6M111.71 259.26h3.6" stroke="#00ffff" stroke-width="0.95" fill="none"/>
<path d="M119.50 194.13V240.93" stroke="#00ffff" stroke-width="0.95" stroke-dasharray="3,1.2,1,1.2" fill="none"/>
<path d="M117.70 194.13h3.6M117.70 240.93h3.6" stroke="#00ffff" stroke-width="0.95" fill="none"/>
<rect x="42.58" y="256.22" width="4" height="4" fill="#00ffff"/>
<rect x="48.28" y="256.22" width="4" height="4" fill="#00ffff"/>
<rect x="54.55" y="263.50" width="4" height="4" fill="#00ffff"/>
<rect x="59.96" y="270.26" width="4" height="4" fill="#00ffff"/>
<rect x="65.94" y="266.49" width="4" height="4" fill="#00ffff"/>
<rect x="71.35" y="262.20" width="4" height="4" fill="#00ffff"/>
<rect x="77.33" y="284.95" width="4" height="4" fill="#00ffff"/>
<rect x="82.75" y="287.94" width="4" height="4" fill="#00ffff"/>
<rect x="89.30" y="280.92" width="4" height="4" fill="#00ffff"/>
<rect x="94.71" y="258.30" width="4" height="4" fill="#00ffff"/>
<rect x="100.41" y="240.36" width="4" height="4" fill="#00ffff"/>
<rect x="106.10" y="238.02" width="4" height="4" fill="#00ffff"/>
<rect x="111.51" y="242.96" width="4" height="4" fill="#00ffff"/>
<rect x="117.50" y="215.53" width="4" height="4" fill="#00ffff"/>
</g>
<g clip-path="url(#cld)">
<path d="M260.20 243.27V251.07" stroke="#ff0000" stroke-width="1.0"  fill="none"/>
<path d="M258.40 243.27h3.6M258.40 251.07h3.6" stroke="#ff0000" stroke-width="1.0" fill="none"/>
<path d="M266.16 240.15V249.25" stroke="#ff0000" stroke-width="1.0"  fill="none"/>
<path d="M264.36 240.15h3.6M264.36 249.25h3.6" stroke="#ff0000" stroke-width="1.0" fill="none"/>
<path d="M272.41 228.19V238.59" stroke="#ff0000" stroke-width="1.0"  fill="none"/>
<path d="M270.61 228.19h3.6M270.61 238.59h3.6" stroke="#ff0000" stroke-width="1.0" fill="none"/>
<path d="M278.38 230.40V242.10" stroke="#ff0000" stroke-width="1.0"  fill="none"/>
<path d="M276.58 230.40h3.6M276.58 242.10h3.6" stroke="#ff0000" stroke-width="1.0" fill="none"/>
<path d="M284.34 236.64V244.44" stroke="#ff0000" stroke-width="1.0"  fill="none"/>
<path d="M282.54 236.64h3.6M282.54 244.44h3.6" stroke="#ff0000" stroke-width="1.0" fill="none"/>
<path d="M290.02 240.54V245.74" stroke="#ff0000" stroke-width="1.0"  fill="none"/>
<path d="M288.22 240.54h3.6M288.22 245.74h3.6" stroke="#ff0000" stroke-width="1.0" fill="none"/>
<path d="M295.70 246.39V256.79" stroke="#ff0000" stroke-width="1.0"  fill="none"/>
<path d="M293.90 246.39h3.6M293.90 256.79h3.6" stroke="#ff0000" stroke-width="1.0" fill="none"/>
<path d="M301.10 255.23V268.23" stroke="#ff0000" stroke-width="1.0"  fill="none"/>
<path d="M299.30 255.23h3.6M299.30 268.23h3.6" stroke="#ff0000" stroke-width="1.0" fill="none"/>
<path d="M306.78 275.25V290.85" stroke="#ff0000" stroke-width="1.0"  fill="none"/>
<path d="M304.98 275.25h3.6M304.98 290.85h3.6" stroke="#ff0000" stroke-width="1.0" fill="none"/>
<path d="M313.02 289.68V301.38" stroke="#ff0000" stroke-width="1.0"  fill="none"/>
<path d="M311.22 289.68h3.6M311.22 301.38h3.6" stroke="#ff0000" stroke-width="1.0" fill="none"/>
<path d="M318.70 288.25V299.95" stroke="#ff0000" stroke-width="1.0"  fill="none"/>
<path d="M316.90 288.25h3.6M316.90 299.95h3.6" stroke="#ff0000" stroke-width="1.0" fill="none"/>
<path d="M324.67 278.11V293.71" stroke="#ff0000" stroke-width="1.0"  fill="none"/>
<path d="M322.87 278.11h3.6M322.87 293.71h3.6" stroke="#ff0000" stroke-width="1.0" fill="none"/>
<path d="M330.06 262.90V283.70" stroke="#ff0000" stroke-width="1.0"  fill="none"/>
<path d="M328.26 262.90h3.6M328.26 283.70h3.6" stroke="#ff0000" stroke-width="1.0" fill="none"/>
<path d="M336.60 235.60V261.60" stroke="#ff0000" stroke-width="1.0"  fill="none"/>
<path d="M334.80 235.60h3.6M334.80 261.60h3.6" stroke="#ff0000" stroke-width="1.0" fill="none"/>
<path d="M342.84 228.71V261.21" stroke="#ff0000" stroke-width="1.0"  fill="none"/>
<path d="M341.04 228.71h3.6M341.04 261.21h3.6" stroke="#ff0000" stroke-width="1.0" fill="none"/>
<path d="M348.24 186.20V234.04" stroke="#ff0000" stroke-width="1.0"  fill="none"/>
<path d="M346.44 234.04h3.6" stroke="#ff0000" stroke-width="1.0" fill="none"/>
<path d="M258.20 247.17h4M260.20 245.17v4" stroke="#ff0000" stroke-width="1.1"/>
<path d="M264.16 244.70h4M266.16 242.70v4" stroke="#ff0000" stroke-width="1.1"/>
<path d="M270.41 233.39h4M272.41 231.39v4" stroke="#ff0000" stroke-width="1.1"/>
<path d="M276.38 236.25h4M278.38 234.25v4" stroke="#ff0000" stroke-width="1.1"/>
<path d="M282.34 240.54h4M284.34 238.54v4" stroke="#ff0000" stroke-width="1.1"/>
<path d="M288.02 243.14h4M290.02 241.14v4" stroke="#ff0000" stroke-width="1.1"/>
<path d="M293.70 251.59h4M295.70 249.59v4" stroke="#ff0000" stroke-width="1.1"/>
<path d="M299.10 261.73h4M301.10 259.73v4" stroke="#ff0000" stroke-width="1.1"/>
<path d="M304.78 283.05h4M306.78 281.05v4" stroke="#ff0000" stroke-width="1.1"/>
<path d="M311.02 295.53h4M313.02 293.53v4" stroke="#ff0000" stroke-width="1.1"/>
<path d="M316.70 294.10h4M318.70 292.10v4" stroke="#ff0000" stroke-width="1.1"/>
<path d="M322.67 285.91h4M324.67 283.91v4" stroke="#ff0000" stroke-width="1.1"/>
<path d="M328.06 273.30h4M330.06 271.30v4" stroke="#ff0000" stroke-width="1.1"/>
<path d="M334.60 248.60h4M336.60 246.60v4" stroke="#ff0000" stroke-width="1.1"/>
<path d="M340.84 244.96h4M342.84 242.96v4" stroke="#ff0000" stroke-width="1.1"/>
<path d="M346.24 209.34h4M348.24 207.34v4" stroke="#ff0000" stroke-width="1.1"/>
<path d="M260.20 249.25V258.35" stroke="#00ff00" stroke-width="0.9" stroke-dasharray="2.2,1.6" fill="none"/>
<path d="M258.40 249.25h3.6M258.40 258.35h3.6" stroke="#00ff00" stroke-width="0.9" fill="none"/>
<path d="M265.60 246.65V255.75" stroke="#00ff00" stroke-width="0.9" stroke-dasharray="2.2,1.6" fill="none"/>
<path d="M263.80 246.65h3.6M263.80 255.75h3.6" stroke="#00ff00" stroke-width="0.9" fill="none"/>
<path d="M271.56 244.05V253.15" stroke="#00ff00" stroke-width="0.9" stroke-dasharray="2.2,1.6" fill="none"/>
<path d="M269.76 244.05h3.6M269.76 253.15h3.6" stroke="#00ff00" stroke-width="0.9" fill="none"/>
<path d="M277.81 234.30V244.70" stroke="#00ff00" stroke-width="0.9" stroke-dasharray="2.2,1.6" fill="none"/>
<path d="M276.01 234.30h3.6M276.01 244.70h3.6" stroke="#00ff00" stroke-width="0.9" fill="none"/>
<path d="M283.77 221.82V232.22" stroke="#00ff00" stroke-width="0.9" stroke-dasharray="2.2,1.6" fill="none"/>
<path d="M281.97 221.82h3.6M281.97 232.22h3.6" stroke="#00ff00" stroke-width="0.9" fill="none"/>
<path d="M288.88 220.78V232.48" stroke="#00ff00" stroke-width="0.9" stroke-dasharray="2.2,1.6" fill="none"/>
<path d="M287.08 220.78h3.6M287.08 232.48h3.6" stroke="#00ff00" stroke-width="0.9" fill="none"/>
<path d="M294.56 236.38V246.78" stroke="#00ff00" stroke-width="0.9" stroke-dasharray="2.2,1.6" fill="none"/>
<path d="M292.76 236.38h3.6M292.76 246.78h3.6" stroke="#00ff00" stroke-width="0.9" fill="none"/>
<path d="M300.24 239.24V250.94" stroke="#00ff00" stroke-width="0.9" stroke-dasharray="2.2,1.6" fill="none"/>
<path d="M298.44 239.24h3.6M298.44 250.94h3.6" stroke="#00ff00" stroke-width="0.9" fill="none"/>
<path d="M306.21 264.07V274.47" stroke="#00ff00" stroke-width="0.9" stroke-dasharray="2.2,1.6" fill="none"/>
<path d="M304.41 264.07h3.6M304.41 274.47h3.6" stroke="#00ff00" stroke-width="0.9" fill="none"/>
<path d="M311.60 268.88V279.28" stroke="#00ff00" stroke-width="0.9" stroke-dasharray="2.2,1.6" fill="none"/>
<path d="M309.80 268.88h3.6M309.80 279.28h3.6" stroke="#00ff00" stroke-width="0.9" fill="none"/>
<path d="M317.28 263.42V273.82" stroke="#00ff00" stroke-width="0.9" stroke-dasharray="2.2,1.6" fill="none"/>
<path d="M315.48 263.42h3.6M315.48 273.82h3.6" stroke="#00ff00" stroke-width="0.9" fill="none"/>
<path d="M322.96 268.88V279.28" stroke="#00ff00" stroke-width="0.9" stroke-dasharray="2.2,1.6" fill="none"/>
<path d="M321.16 268.88h3.6M321.16 279.28h3.6" stroke="#00ff00" stroke-width="0.9" fill="none"/>
<path d="M329.50 256.66V269.66" stroke="#00ff00" stroke-width="0.9" stroke-dasharray="2.2,1.6" fill="none"/>
<path d="M327.70 256.66h3.6M327.70 269.66h3.6" stroke="#00ff00" stroke-width="0.9" fill="none"/>
<path d="M335.46 247.69V268.49" stroke="#00ff00" stroke-width="0.9" stroke-dasharray="2.2,1.6" fill="none"/>
<path d="M333.66 247.69h3.6M333.66 268.49h3.6" stroke="#00ff00" stroke-width="0.9" fill="none"/>
<path d="M258.60 252.20l3.2 3.2M258.60 255.40l3.2 -3.2" stroke="#00ff00" stroke-width="1.0"/>
<path d="M264.00 249.60l3.2 3.2M264.00 252.80l3.2 -3.2" stroke="#00ff00" stroke-width="1.0"/>
<path d="M269.96 247.00l3.2 3.2M269.96 250.20l3.2 -3.2" stroke="#00ff00" stroke-width="1.0"/>
<path d="M276.21 237.90l3.2 3.2M276.21 241.10l3.2 -3.2" stroke="#00ff00" stroke-width="1.0"/>
<path d="M282.17 225.42l3.2 3.2M282.17 228.62l3.2 -3.2" stroke="#00ff00" stroke-width="1.0"/>
<path d="M287.28 225.03l3.2 3.2M287.28 228.23l3.2 -3.2" stroke="#00ff00" stroke-width="1.0"/>
<path d="M292.96 239.98l3.2 3.2M292.96 243.18l3.2 -3.2" stroke="#00ff00" stroke-width="1.0"/>
<path d="M298.64 243.49l3.2 3.2M298.64 246.69l3.2 -3.2" stroke="#00ff00" stroke-width="1.0"/>
<path d="M304.61 267.67l3.2 3.2M304.61 270.87l3.2 -3.2" stroke="#00ff00" stroke-width="1.0"/>
<path d="M310.00 272.48l3.2 3.2M310.00 275.68l3.2 -3.2" stroke="#00ff00" stroke-width="1.0"/>
<path d="M315.68 267.02l3.2 3.2M315.68 270.22l3.2 -3.2" stroke="#00ff00" stroke-width="1.0"/>
<path d="M321.36 272.48l3.2 3.2M321.36 275.68l3.2 -3.2" stroke="#00ff00" stroke-width="1.0"/>
<path d="M327.90 261.56l3.2 3.2M327.90 264.76l3.2 -3.2" stroke="#00ff00" stroke-width="1.0"/>
<path d="M333.86 256.49l3.2 3.2M333.86 259.69l3.2 -3.2" stroke="#00ff00" stroke-width="1.0"/>
<path d="M259.92 243.27V251.07" stroke="#0000ff" stroke-width="0.95" stroke-dasharray="0.9,1.3" fill="none"/>
<path d="M258.12 243.27h3.6M258.12 251.07h3.6" stroke="#0000ff" stroke-width="0.95" fill="none"/>
<path d="M265.31 237.16V244.96" stroke="#0000ff" stroke-width="0.95" stroke-dasharray="0.9,1.3" fill="none"/>
<path d="M263.51 237.16h3.6M263.51 244.96h3.6" stroke="#0000ff" stroke-width="0.95" fill="none"/>
<path d="M271.84 238.85V246.65" stroke="#0000ff" stroke-width="0.95" stroke-dasharray="0.9,1.3" fill="none"/>
<path d="M270.04 238.85h3.6M270.04 246.65h3.6" stroke="#0000ff" stroke-width="0.95" fill="none"/>
<path d="M277.52 230.92V240.02" stroke="#0000ff" stroke-width="0.95" stroke-dasharray="0.9,1.3" fill="none"/>
<path d="M275.72 230.92h3.6M275.72 240.02h3.6" stroke="#0000ff" stroke-width="0.95" fill="none"/>
<path d="M283.49 226.37V236.77" stroke="#0000ff" stroke-width="0.95" stroke-dasharray="0.9,1.3" fill="none"/>
<path d="M281.69 226.37h3.6M281.69 236.77h3.6" stroke="#0000ff" stroke-width="0.95" fill="none"/>
<path d="M289.45 233.13V243.53" stroke="#0000ff" stroke-width="0.95" stroke-dasharray="0.9,1.3" fill="none"/>
<path d="M287.65 233.13h3.6M287.65 243.53h3.6" stroke="#0000ff" stroke-width="0.95" fill="none"/>
<path d="M294.56 253.67V262.77" stroke="#0000ff" stroke-width="0.95" stroke-dasharray="0.9,1.3" fill="none"/>
<path d="M292.76 253.67h3.6M292.76 262.77h3.6" stroke="#0000ff" stroke-width="0.95" fill="none"/>
<path d="M300.24 255.75V264.85" stroke="#0000ff" stroke-width="0.95" stroke-dasharray="0.9,1.3" fill="none"/>
<path d="M298.44 255.75h3.6M298.44 264.85h3.6" stroke="#0000ff" stroke-width="0.95" fill="none"/>
<path d="M305.92 272.39V282.79" stroke="#0000ff" stroke-width="0.95" stroke-dasharray="0.9,1.3" fill="none"/>
<path d="M304.12 272.39h3.6M304.12 282.79h3.6" stroke="#0000ff" stroke-width="0.95" fill="none"/>
<path d="M311.89 277.85V288.25" stroke="#0000ff" stroke-width="0.95" stroke-dasharray="0.9,1.3" fill="none"/>
<path d="M310.09 277.85h3.6M310.09 288.25h3.6" stroke="#0000ff" stroke-width="0.95" fill="none"/>
<path d="M317.85 273.82V284.22" stroke="#0000ff" stroke-width="0.95" stroke-dasharray="0.9,1.3" fill="none"/>
<path d="M316.05 273.82h3.6M316.05 284.22h3.6" stroke="#0000ff" stroke-width="0.95" fill="none"/>
<path d="M323.25 273.82V285.52" stroke="#0000ff" stroke-width="0.95" stroke-dasharray="0.9,1.3" fill="none"/>
<path d="M321.45 273.82h3.6M321.45 285.52h3.6" stroke="#0000ff" stroke-width="0.95" fill="none"/>
<path d="M329.50 263.55V277.85" stroke="#0000ff" stroke-width="0.95" stroke-dasharray="0.9,1.3" fill="none"/>
<path d="M327.70 263.55h3.6M327.70 277.85h3.6" stroke="#0000ff" stroke-width="0.95" fill="none"/>
<path d="M335.74 218.18V238.98" stroke="#0000ff" stroke-width="0.95" stroke-dasharray="0.9,1.3" fill="none"/>
<path d="M333.94 218.18h3.6M333.94 238.98h3.6" stroke="#0000ff" stroke-width="0.95" fill="none"/>
<path d="M342.28 201.28V232.48" stroke="#0000ff" stroke-width="0.95" stroke-dasharray="0.9,1.3" fill="none"/>
<path d="M340.48 201.28h3.6M340.48 232.48h3.6" stroke="#0000ff" stroke-width="0.95" fill="none"/>
<path d="M348.24 198.55V250.55" stroke="#0000ff" stroke-width="0.95" stroke-dasharray="0.9,1.3" fill="none"/>
<path d="M346.44 198.55h3.6M346.44 250.55h3.6" stroke="#0000ff" stroke-width="0.95" fill="none"/>
<rect x="258.12" y="245.37" width="3.6" height="3.6" fill="#0000ff"/>
<rect x="263.51" y="239.26" width="3.6" height="3.6" fill="#0000ff"/>
<rect x="270.04" y="240.95" width="3.6" height="3.6" fill="#0000ff"/>
<rect x="275.72" y="233.67" width="3.6" height="3.6" fill="#0000ff"/>
<rect x="281.69" y="229.77" width="3.6" height="3.6" fill="#0000ff"/>
<rect x="287.65" y="236.53" width="3.6" height="3.6" fill="#0000ff"/>
<rect x="292.76" y="256.42" width="3.6" height="3.6" fill="#0000ff"/>
<rect x="298.44" y="258.50" width="3.6" height="3.6" fill="#0000ff"/>
<rect x="304.12" y="275.79" width="3.6" height="3.6" fill="#0000ff"/>
<rect x="310.09" y="281.25" width="3.6" height="3.6" fill="#0000ff"/>
<rect x="316.05" y="277.22" width="3.6" height="3.6" fill="#0000ff"/>
<rect x="321.45" y="277.87" width="3.6" height="3.6" fill="#0000ff"/>
<rect x="327.70" y="268.90" width="3.6" height="3.6" fill="#0000ff"/>
<rect x="333.94" y="226.78" width="3.6" height="3.6" fill="#0000ff"/>
<rect x="340.48" y="215.08" width="3.6" height="3.6" fill="#0000ff"/>
<rect x="346.44" y="222.75" width="3.6" height="3.6" fill="#0000ff"/>
<path d="M265.31 236.51V245.61" stroke="#ff00ff" stroke-width="0.65"  fill="none"/>
<path d="M263.51 236.51h3.6M263.51 245.61h3.6" stroke="#ff00ff" stroke-width="0.65" fill="none"/>
<path d="M270.99 241.45V250.55" stroke="#ff00ff" stroke-width="0.65"  fill="none"/>
<path d="M269.19 241.45h3.6M269.19 250.55h3.6" stroke="#ff00ff" stroke-width="0.65" fill="none"/>
<path d="M276.96 242.49V254.19" stroke="#ff00ff" stroke-width="0.65"  fill="none"/>
<path d="M275.16 242.49h3.6M275.16 254.19h3.6" stroke="#ff00ff" stroke-width="0.65" fill="none"/>
<path d="M282.92 245.48V255.88" stroke="#ff00ff" stroke-width="0.65"  fill="none"/>
<path d="M281.12 245.48h3.6M281.12 255.88h3.6" stroke="#ff00ff" stroke-width="0.65" fill="none"/>
<path d="M288.32 241.45V251.85" stroke="#ff00ff" stroke-width="0.65"  fill="none"/>
<path d="M286.52 241.45h3.6M286.52 251.85h3.6" stroke="#ff00ff" stroke-width="0.65" fill="none"/>
<path d="M294.28 249.90V259.00" stroke="#ff00ff" stroke-width="0.65"  fill="none"/>
<path d="M292.48 249.90h3.6M292.48 259.00h3.6" stroke="#ff00ff" stroke-width="0.65" fill="none"/>
<path d="M299.96 257.70V268.10" stroke="#ff00ff" stroke-width="0.65"  fill="none"/>
<path d="M298.16 257.70h3.6M298.16 268.10h3.6" stroke="#ff00ff" stroke-width="0.65" fill="none"/>
<path d="M305.92 270.70V281.10" stroke="#ff00ff" stroke-width="0.65"  fill="none"/>
<path d="M304.12 270.70h3.6M304.12 281.10h3.6" stroke="#ff00ff" stroke-width="0.65" fill="none"/>
<path d="M311.32 277.85V289.55" stroke="#ff00ff" stroke-width="0.65"  fill="none"/>
<path d="M309.52 277.85h3.6M309.52 289.55h3.6" stroke="#ff00ff" stroke-width="0.65" fill="none"/>
<path d="M317.28 270.70V282.40" stroke="#ff00ff" stroke-width="0.65"  fill="none"/>
<path d="M315.48 270.70h3.6M315.48 282.40h3.6" stroke="#ff00ff" stroke-width="0.65" fill="none"/>
<path d="M322.68 257.96V270.96" stroke="#ff00ff" stroke-width="0.65"  fill="none"/>
<path d="M320.88 257.96h3.6M320.88 270.96h3.6" stroke="#ff00ff" stroke-width="0.65" fill="none"/>
<path d="M328.64 248.99V263.29" stroke="#ff00ff" stroke-width="0.65"  fill="none"/>
<path d="M326.84 248.99h3.6M326.84 263.29h3.6" stroke="#ff00ff" stroke-width="0.65" fill="none"/>
<path d="M335.18 235.08V250.68" stroke="#ff00ff" stroke-width="0.65"  fill="none"/>
<path d="M333.38 235.08h3.6M333.38 250.68h3.6" stroke="#ff00ff" stroke-width="0.65" fill="none"/>
<rect x="263.21" y="238.96" width="4.2" height="4.2" fill="none" stroke="#ff00ff" stroke-width="1.1"/>
<rect x="268.89" y="243.90" width="4.2" height="4.2" fill="none" stroke="#ff00ff" stroke-width="1.1"/>
<rect x="274.86" y="246.24" width="4.2" height="4.2" fill="none" stroke="#ff00ff" stroke-width="1.1"/>
<rect x="280.82" y="248.58" width="4.2" height="4.2" fill="none" stroke="#ff00ff" stroke-width="1.1"/>
<rect x="286.22" y="244.55" width="4.2" height="4.2" fill="none" stroke="#ff00ff" stroke-width="1.1"/>
<rect x="292.18" y="252.35" width="4.2" height="4.2" fill="none" stroke="#ff00ff" stroke-width="1.1"/>
<rect x="297.86" y="260.80" width="4.2" height="4.2" fill="none" stroke="#ff00ff" stroke-width="1.1"/>
<rect x="303.82" y="273.80" width="4.2" height="4.2" fill="none" stroke="#ff00ff" stroke-width="1.1"/>
<rect x="309.22" y="281.60" width="4.2" height="4.2" fill="none" stroke="#ff00ff" stroke-width="1.1"/>
<rect x="315.18" y="274.45" width="4.2" height="4.2" fill="none" stroke="#ff00ff" stroke-width="1.1"/>
<rect x="320.58" y="262.36" width="4.2" height="4.2" fill="none" stroke="#ff00ff" stroke-width="1.1"/>
<rect x="326.54" y="254.04" width="4.2" height="4.2" fill="none" stroke="#ff00ff" stroke-width="1.1"/>
<rect x="333.08" y="240.78" width="4.2" height="4.2" fill="none" stroke="#ff00ff" stroke-width="1.1"/>
</g>
<g clip-path="url(#cle)">
<path d="M67.49 383.52V392.88" stroke="#ff0000" stroke-width="1.0"  fill="none"/>
<path d="M65.69 383.52h3.6M65.69 392.88h3.6" stroke="#ff0000" stroke-width="1.0" fill="none"/>
<path d="M71.28 374.94V384.30" stroke="#ff0000" stroke-width="1.0"  fill="none"/>
<path d="M69.48 374.94h3.6M69.48 384.30h3.6" stroke="#ff0000" stroke-width="1.0" fill="none"/>
<path d="M75.08 398.60V407.96" stroke="#ff0000" stroke-width="1.0"  fill="none"/>
<path d="M73.28 398.60h3.6M73.28 407.96h3.6" stroke="#ff0000" stroke-width="1.0" fill="none"/>
<path d="M78.88 392.62V401.98" stroke="#ff0000" stroke-width="1.0"  fill="none"/>
<path d="M77.08 392.62h3.6M77.08 401.98h3.6" stroke="#ff0000" stroke-width="1.0" fill="none"/>
<path d="M82.67 417.32V426.68" stroke="#ff0000" stroke-width="1.0"  fill="none"/>
<path d="M80.87 417.32h3.6M80.87 426.68h3.6" stroke="#ff0000" stroke-width="1.0" fill="none"/>
<path d="M86.47 412.12V421.48" stroke="#ff0000" stroke-width="1.0"  fill="none"/>
<path d="M84.67 412.12h3.6M84.67 421.48h3.6" stroke="#ff0000" stroke-width="1.0" fill="none"/>
<path d="M90.27 440.98V447.22" stroke="#ff0000" stroke-width="1.0"  fill="none"/>
<path d="M88.47 440.98h3.6M88.47 447.22h3.6" stroke="#ff0000" stroke-width="1.0" fill="none"/>
<path d="M94.06 438.38V444.62" stroke="#ff0000" stroke-width="1.0"  fill="none"/>
<path d="M92.26 438.38h3.6M92.26 444.62h3.6" stroke="#ff0000" stroke-width="1.0" fill="none"/>
<path d="M97.86 439.68V445.92" stroke="#ff0000" stroke-width="1.0"  fill="none"/>
<path d="M96.06 439.68h3.6M96.06 445.92h3.6" stroke="#ff0000" stroke-width="1.0" fill="none"/>
<path d="M101.66 448.26V454.50" stroke="#ff0000" stroke-width="1.0"  fill="none"/>
<path d="M99.86 448.26h3.6M99.86 454.50h3.6" stroke="#ff0000" stroke-width="1.0" fill="none"/>
<path d="M105.45 466.84V471.69" stroke="#ff0000" stroke-width="1.0"  fill="none"/>
<path d="M103.65 466.84h3.6M103.65 471.69h3.6" stroke="#ff0000" stroke-width="1.0" fill="none"/>
<path d="M109.25 465.70V470.65" stroke="#ff0000" stroke-width="1.0"  fill="none"/>
<path d="M107.45 465.70h3.6M107.45 470.65h3.6" stroke="#ff0000" stroke-width="1.0" fill="none"/>
<path d="M113.05 467.31V472.11" stroke="#ff0000" stroke-width="1.0"  fill="none"/>
<path d="M111.25 467.31h3.6M111.25 472.11h3.6" stroke="#ff0000" stroke-width="1.0" fill="none"/>
<path d="M116.84 471.65V476.08" stroke="#ff0000" stroke-width="1.0"  fill="none"/>
<path d="M115.04 471.65h3.6M115.04 476.08h3.6" stroke="#ff0000" stroke-width="1.0" fill="none"/>
<path d="M120.64 479.50V483.25" stroke="#ff0000" stroke-width="1.0"  fill="none"/>
<path d="M118.84 479.50h3.6M118.84 483.25h3.6" stroke="#ff0000" stroke-width="1.0" fill="none"/>
<path d="M124.44 484.63V487.94" stroke="#ff0000" stroke-width="1.0"  fill="none"/>
<path d="M122.64 484.63h3.6M122.64 487.94h3.6" stroke="#ff0000" stroke-width="1.0" fill="none"/>
<path d="M128.23 486.78V489.91" stroke="#ff0000" stroke-width="1.0"  fill="none"/>
<path d="M126.43 486.78h3.6M126.43 489.91h3.6" stroke="#ff0000" stroke-width="1.0" fill="none"/>
<path d="M132.03 492.51V495.15" stroke="#ff0000" stroke-width="1.0"  fill="none"/>
<path d="M130.23 492.51h3.6M130.23 495.15h3.6" stroke="#ff0000" stroke-width="1.0" fill="none"/>
<path d="M135.83 496.12V498.44" stroke="#ff0000" stroke-width="1.0"  fill="none"/>
<path d="M134.03 496.12h3.6M134.03 498.44h3.6" stroke="#ff0000" stroke-width="1.0" fill="none"/>
<path d="M139.63 497.42V499.63" stroke="#ff0000" stroke-width="1.0"  fill="none"/>
<path d="M137.83 497.42h3.6M137.83 499.63h3.6" stroke="#ff0000" stroke-width="1.0" fill="none"/>
<path d="M142.85 493.76V497.40" stroke="#ff0000" stroke-width="1.0"  fill="none"/>
<path d="M141.05 493.76h3.6M141.05 497.40h3.6" stroke="#ff0000" stroke-width="1.0" fill="none"/>
<path d="M147.22 496.88V499.14" stroke="#ff0000" stroke-width="1.0"  fill="none"/>
<path d="M145.42 496.88h3.6M145.42 499.14h3.6" stroke="#ff0000" stroke-width="1.0" fill="none"/>
<path d="M153.39 472.44V490.64" stroke="#ff0000" stroke-width="1.0"  fill="none"/>
<path d="M151.59 472.44h3.6M151.59 490.64h3.6" stroke="#ff0000" stroke-width="1.0" fill="none"/>
<path d="M154.81 495.22V497.62" stroke="#ff0000" stroke-width="1.0"  fill="none"/>
<path d="M153.01 495.22h3.6M153.01 497.62h3.6" stroke="#ff0000" stroke-width="1.0" fill="none"/>
<path d="M158.61 494.97V497.40" stroke="#ff0000" stroke-width="1.0"  fill="none"/>
<path d="M156.81 494.97h3.6M156.81 497.40h3.6" stroke="#ff0000" stroke-width="1.0" fill="none"/>
<path d="M163.93 485.18V490.90" stroke="#ff0000" stroke-width="1.0"  fill="none"/>
<path d="M162.13 485.18h3.6M162.13 490.90h3.6" stroke="#ff0000" stroke-width="1.0" fill="none"/>
<path d="M166.20 493.85V496.37" stroke="#ff0000" stroke-width="1.0"  fill="none"/>
<path d="M164.40 493.85h3.6M164.40 496.37h3.6" stroke="#ff0000" stroke-width="1.0" fill="none"/>
<path d="M170.00 493.32V495.89" stroke="#ff0000" stroke-width="1.0"  fill="none"/>
<path d="M168.20 493.32h3.6M168.20 495.89h3.6" stroke="#ff0000" stroke-width="1.0" fill="none"/>
<path d="M173.80 493.12V495.70" stroke="#ff0000" stroke-width="1.0"  fill="none"/>
<path d="M172.00 493.12h3.6M172.00 495.70h3.6" stroke="#ff0000" stroke-width="1.0" fill="none"/>
<path d="M177.59 494.04V496.55" stroke="#ff0000" stroke-width="1.0"  fill="none"/>
<path d="M175.79 494.04h3.6M175.79 496.55h3.6" stroke="#ff0000" stroke-width="1.0" fill="none"/>
<path d="M181.39 492.82V495.43" stroke="#ff0000" stroke-width="1.0"  fill="none"/>
<path d="M179.59 492.82h3.6M179.59 495.43h3.6" stroke="#ff0000" stroke-width="1.0" fill="none"/>
<path d="M65.49 388.20h4M67.49 386.20v4" stroke="#ff0000" stroke-width="1.1"/>
<path d="M69.28 379.62h4M71.28 377.62v4" stroke="#ff0000" stroke-width="1.1"/>
<path d="M73.08 403.28h4M75.08 401.28v4" stroke="#ff0000" stroke-width="1.1"/>
<path d="M76.88 397.30h4M78.88 395.30v4" stroke="#ff0000" stroke-width="1.1"/>
<path d="M80.67 422.00h4M82.67 420.00v4" stroke="#ff0000" stroke-width="1.1"/>
<path d="M84.47 416.80h4M86.47 414.80v4" stroke="#ff0000" stroke-width="1.1"/>
<path d="M88.27 444.10h4M90.27 442.10v4" stroke="#ff0000" stroke-width="1.1"/>
<path d="M92.06 441.50h4M94.06 439.50v4" stroke="#ff0000" stroke-width="1.1"/>
<path d="M95.86 442.80h4M97.86 440.80v4" stroke="#ff0000" stroke-width="1.1"/>
<path d="M99.66 451.38h4M101.66 449.38v4" stroke="#ff0000" stroke-width="1.1"/>
<path d="M103.45 469.27h4M105.45 467.27v4" stroke="#ff0000" stroke-width="1.1"/>
<path d="M107.25 468.17h4M109.25 466.17v4" stroke="#ff0000" stroke-width="1.1"/>
<path d="M111.05 469.71h4M113.05 467.71v4" stroke="#ff0000" stroke-width="1.1"/>
<path d="M114.84 473.87h4M116.84 471.87v4" stroke="#ff0000" stroke-width="1.1"/>
<path d="M118.64 481.37h4M120.64 479.37v4" stroke="#ff0000" stroke-width="1.1"/>
<path d="M122.44 486.28h4M124.44 484.28v4" stroke="#ff0000" stroke-width="1.1"/>
<path d="M126.23 488.34h4M128.23 486.34v4" stroke="#ff0000" stroke-width="1.1"/>
<path d="M130.03 493.83h4M132.03 491.83v4" stroke="#ff0000" stroke-width="1.1"/>
<path d="M133.83 497.28h4M135.83 495.28v4" stroke="#ff0000" stroke-width="1.1"/>
<path d="M137.63 498.53h4M139.63 496.53v4" stroke="#ff0000" stroke-width="1.1"/>
<path d="M140.85 495.58h4M142.85 493.58v4" stroke="#ff0000" stroke-width="1.1"/>
<path d="M145.22 498.01h4M147.22 496.01v4" stroke="#ff0000" stroke-width="1.1"/>
<path d="M151.39 481.54h4M153.39 479.54v4" stroke="#ff0000" stroke-width="1.1"/>
<path d="M152.81 496.42h4M154.81 494.42v4" stroke="#ff0000" stroke-width="1.1"/>
<path d="M156.61 496.18h4M158.61 494.18v4" stroke="#ff0000" stroke-width="1.1"/>
<path d="M161.93 488.04h4M163.93 486.04v4" stroke="#ff0000" stroke-width="1.1"/>
<path d="M164.20 495.11h4M166.20 493.11v4" stroke="#ff0000" stroke-width="1.1"/>
<path d="M168.00 494.60h4M170.00 492.60v4" stroke="#ff0000" stroke-width="1.1"/>
<path d="M171.80 494.41h4M173.80 492.41v4" stroke="#ff0000" stroke-width="1.1"/>
<path d="M175.59 495.30h4M177.59 493.30v4" stroke="#ff0000" stroke-width="1.1"/>
<path d="M179.39 494.12h4M181.39 492.12v4" stroke="#ff0000" stroke-width="1.1"/>
<path d="M67.26 388.72V398.08" stroke="#00ff00" stroke-width="0.9" stroke-dasharray="2.2,1.6" fill="none"/>
<path d="M65.46 388.72h3.6M65.46 398.08h3.6" stroke="#00ff00" stroke-width="0.9" fill="none"/>
<path d="M71.05 379.62V388.98" stroke="#00ff00" stroke-width="0.9" stroke-dasharray="2.2,1.6" fill="none"/>
<path d="M69.25 379.62h3.6M69.25 388.98h3.6" stroke="#00ff00" stroke-width="0.9" fill="none"/>
<path d="M74.85 388.20V397.56" stroke="#00ff00" stroke-width="0.9" stroke-dasharray="2.2,1.6" fill="none"/>
<path d="M73.05 388.20h3.6M73.05 397.56h3.6" stroke="#00ff00" stroke-width="0.9" fill="none"/>
<path d="M78.65 394.44V403.80" stroke="#00ff00" stroke-width="0.9" stroke-dasharray="2.2,1.6" fill="none"/>
<path d="M76.85 394.44h3.6M76.85 403.80h3.6" stroke="#00ff00" stroke-width="0.9" fill="none"/>
<path d="M82.44 419.14V428.50" stroke="#00ff00" stroke-width="0.9" stroke-dasharray="2.2,1.6" fill="none"/>
<path d="M80.64 419.14h3.6M80.64 428.50h3.6" stroke="#00ff00" stroke-width="0.9" fill="none"/>
<path d="M86.24 424.60V433.96" stroke="#00ff00" stroke-width="0.9" stroke-dasharray="2.2,1.6" fill="none"/>
<path d="M84.44 424.60h3.6M84.44 433.96h3.6" stroke="#00ff00" stroke-width="0.9" fill="none"/>
<path d="M90.04 445.66V451.90" stroke="#00ff00" stroke-width="0.9" stroke-dasharray="2.2,1.6" fill="none"/>
<path d="M88.24 445.66h3.6M88.24 451.90h3.6" stroke="#00ff00" stroke-width="0.9" fill="none"/>
<path d="M93.84 440.98V447.22" stroke="#00ff00" stroke-width="0.9" stroke-dasharray="2.2,1.6" fill="none"/>
<path d="M92.04 440.98h3.6M92.04 447.22h3.6" stroke="#00ff00" stroke-width="0.9" fill="none"/>
<path d="M97.63 447.22V453.46" stroke="#00ff00" stroke-width="0.9" stroke-dasharray="2.2,1.6" fill="none"/>
<path d="M95.83 447.22h3.6M95.83 453.46h3.6" stroke="#00ff00" stroke-width="0.9" fill="none"/>
<path d="M101.43 457.88V464.12" stroke="#00ff00" stroke-width="0.9" stroke-dasharray="2.2,1.6" fill="none"/>
<path d="M99.63 457.88h3.6M99.63 464.12h3.6" stroke="#00ff00" stroke-width="0.9" fill="none"/>
<path d="M105.23 468.11V472.84" stroke="#00ff00" stroke-width="0.9" stroke-dasharray="2.2,1.6" fill="none"/>
<path d="M103.43 468.11h3.6M103.43 472.84h3.6" stroke="#00ff00" stroke-width="0.9" fill="none"/>
<path d="M109.02 468.33V473.05" stroke="#00ff00" stroke-width="0.9" stroke-dasharray="2.2,1.6" fill="none"/>
<path d="M107.22 468.33h3.6M107.22 473.05h3.6" stroke="#00ff00" stroke-width="0.9" fill="none"/>
<path d="M112.82 467.99V472.74" stroke="#00ff00" stroke-width="0.9" stroke-dasharray="2.2,1.6" fill="none"/>
<path d="M111.02 467.99h3.6M111.02 472.74h3.6" stroke="#00ff00" stroke-width="0.9" fill="none"/>
<path d="M116.62 473.67V477.93" stroke="#00ff00" stroke-width="0.9" stroke-dasharray="2.2,1.6" fill="none"/>
<path d="M114.82 473.67h3.6M114.82 477.93h3.6" stroke="#00ff00" stroke-width="0.9" fill="none"/>
<path d="M120.41 480.99V484.62" stroke="#00ff00" stroke-width="0.9" stroke-dasharray="2.2,1.6" fill="none"/>
<path d="M118.61 480.99h3.6M118.61 484.62h3.6" stroke="#00ff00" stroke-width="0.9" fill="none"/>
<path d="M124.21 486.29V489.46" stroke="#00ff00" stroke-width="0.9" stroke-dasharray="2.2,1.6" fill="none"/>
<path d="M122.41 486.29h3.6M122.41 489.46h3.6" stroke="#00ff00" stroke-width="0.9" fill="none"/>
<path d="M128.01 487.67V490.73" stroke="#00ff00" stroke-width="0.9" stroke-dasharray="2.2,1.6" fill="none"/>
<path d="M126.21 487.67h3.6M126.21 490.73h3.6" stroke="#00ff00" stroke-width="0.9" fill="none"/>
<path d="M131.80 492.49V495.13" stroke="#00ff00" stroke-width="0.9" stroke-dasharray="2.2,1.6" fill="none"/>
<path d="M130.00 492.49h3.6M130.00 495.13h3.6" stroke="#00ff00" stroke-width="0.9" fill="none"/>
<path d="M135.60 496.61V498.89" stroke="#00ff00" stroke-width="0.9" stroke-dasharray="2.2,1.6" fill="none"/>
<path d="M133.80 496.61h3.6M133.80 498.89h3.6" stroke="#00ff00" stroke-width="0.9" fill="none"/>
<path d="M139.40 497.84V500.00" stroke="#00ff00" stroke-width="0.9" stroke-dasharray="2.2,1.6" fill="none"/>
<path d="M137.60 497.84h3.6" stroke="#00ff00" stroke-width="0.9" fill="none"/>
<path d="M143.19 497.51V499.72" stroke="#00ff00" stroke-width="0.9" stroke-dasharray="2.2,1.6" fill="none"/>
<path d="M141.39 497.51h3.6M141.39 499.72h3.6" stroke="#00ff00" stroke-width="0.9" fill="none"/>
<path d="M146.99 497.71V499.90" stroke="#00ff00" stroke-width="0.9" stroke-dasharray="2.2,1.6" fill="none"/>
<path d="M145.19 497.71h3.6M145.19 499.90h3.6" stroke="#00ff00" stroke-width="0.9" fill="none"/>
<path d="M150.79 497.47V499.68" stroke="#00ff00" stroke-width="0.9" stroke-dasharray="2.2,1.6" fill="none"/>
<path d="M148.99 497.47h3.6M148.99 499.68h3.6" stroke="#00ff00" stroke-width="0.9" fill="none"/>
<path d="M154.58 495.84V498.19" stroke="#00ff00" stroke-width="0.9" stroke-dasharray="2.2,1.6" fill="none"/>
<path d="M152.78 495.84h3.6M152.78 498.19h3.6" stroke="#00ff00" stroke-width="0.9" fill="none"/>
<path d="M160.23 483.36V494.80" stroke="#00ff00" stroke-width="0.9" stroke-dasharray="2.2,1.6" fill="none"/>
<path d="M158.43 483.36h3.6M158.43 494.80h3.6" stroke="#00ff00" stroke-width="0.9" fill="none"/>
<path d="M162.18 494.29V496.77" stroke="#00ff00" stroke-width="0.9" stroke-dasharray="2.2,1.6" fill="none"/>
<path d="M160.38 494.29h3.6M160.38 496.77h3.6" stroke="#00ff00" stroke-width="0.9" fill="none"/>
<path d="M165.98 494.20V496.69" stroke="#00ff00" stroke-width="0.9" stroke-dasharray="2.2,1.6" fill="none"/>
<path d="M164.18 494.20h3.6M164.18 496.69h3.6" stroke="#00ff00" stroke-width="0.9" fill="none"/>
<path d="M171.34 485.70V496.10" stroke="#00ff00" stroke-width="0.9" stroke-dasharray="2.2,1.6" fill="none"/>
<path d="M169.54 485.70h3.6M169.54 496.10h3.6" stroke="#00ff00" stroke-width="0.9" fill="none"/>
<path d="M173.57 494.13V496.63" stroke="#00ff00" stroke-width="0.9" stroke-dasharray="2.2,1.6" fill="none"/>
<path d="M171.77 494.13h3.6M171.77 496.63h3.6" stroke="#00ff00" stroke-width="0.9" fill="none"/>
<path d="M177.60 481.80V500.00" stroke="#00ff00" stroke-width="0.9" stroke-dasharray="2.2,1.6" fill="none"/>
<path d="M175.80 481.80h3.6M175.80 500.00h3.6" stroke="#00ff00" stroke-width="0.9" fill="none"/>
<path d="M181.16 493.49V496.04" stroke="#00ff00" stroke-width="0.9" stroke-dasharray="2.2,1.6" fill="none"/>
<path d="M179.36 493.49h3.6M179.36 496.04h3.6" stroke="#00ff00" stroke-width="0.9" fill="none"/>
<path d="M181.30 446.96V500.00" stroke="#00ff00" stroke-width="0.9" stroke-dasharray="2.2,1.6" fill="none"/>
<path d="M179.50 446.96h3.6" stroke="#00ff00" stroke-width="0.9" fill="none"/>
<path d="M65.66 391.80l3.2 3.2M65.66 395.00l3.2 -3.2" stroke="#00ff00" stroke-width="1.0"/>
<path d="M69.45 382.70l3.2 3.2M69.45 385.90l3.2 -3.2" stroke="#00ff00" stroke-width="1.0"/>
<path d="M73.25 391.28l3.2 3.2M73.25 394.48l3.2 -3.2" stroke="#00ff00" stroke-width="1.0"/>
<path d="M77.05 397.52l3.2 3.2M77.05 400.72l3.2 -3.2" stroke="#00ff00" stroke-width="1.0"/>
<path d="M80.84 422.22l3.2 3.2M80.84 425.42l3.2 -3.2" stroke="#00ff00" stroke-width="1.0"/>
<path d="M84.64 427.68l3.2 3.2M84.64 430.88l3.2 -3.2" stroke="#00ff00" stroke-width="1.0"/>
<path d="M88.44 447.18l3.2 3.2M88.44 450.38l3.2 -3.2" stroke="#00ff00" stroke-width="1.0"/>
<path d="M92.24 442.50l3.2 3.2M92.24 445.70l3.2 -3.2" stroke="#00ff00" stroke-width="1.0"/>
<path d="M96.03 448.74l3.2 3.2M96.03 451.94l3.2 -3.2" stroke="#00ff00" stroke-width="1.0"/>
<path d="M99.83 459.40l3.2 3.2M99.83 462.60l3.2 -3.2" stroke="#00ff00" stroke-width="1.0"/>
<path d="M103.63 468.88l3.2 3.2M103.63 472.08l3.2 -3.2" stroke="#00ff00" stroke-width="1.0"/>
<path d="M107.42 469.09l3.2 3.2M107.42 472.29l3.2 -3.2" stroke="#00ff00" stroke-width="1.0"/>
<path d="M111.22 468.76l3.2 3.2M111.22 471.96l3.2 -3.2" stroke="#00ff00" stroke-width="1.0"/>
<path d="M115.02 474.20l3.2 3.2M115.02 477.40l3.2 -3.2" stroke="#00ff00" stroke-width="1.0"/>
<path d="M118.81 481.21l3.2 3.2M118.81 484.41l3.2 -3.2" stroke="#00ff00" stroke-width="1.0"/>
<path d="M122.61 486.28l3.2 3.2M122.61 489.48l3.2 -3.2" stroke="#00ff00" stroke-width="1.0"/>
<path d="M126.41 487.60l3.2 3.2M126.41 490.80l3.2 -3.2" stroke="#00ff00" stroke-width="1.0"/>
<path d="M130.20 492.21l3.2 3.2M130.20 495.41l3.2 -3.2" stroke="#00ff00" stroke-width="1.0"/>
<path d="M134.00 496.15l3.2 3.2M134.00 499.35l3.2 -3.2" stroke="#00ff00" stroke-width="1.0"/>
<path d="M137.80 497.33l3.2 3.2M137.80 500.53l3.2 -3.2" stroke="#00ff00" stroke-width="1.0"/>
<path d="M141.59 497.02l3.2 3.2M141.59 500.22l3.2 -3.2" stroke="#00ff00" stroke-width="1.0"/>
<path d="M145.39 497.21l3.2 3.2M145.39 500.41l3.2 -3.2" stroke="#00ff00" stroke-width="1.0"/>
<path d="M149.19 496.97l3.2 3.2M149.19 500.17l3.2 -3.2" stroke="#00ff00" stroke-width="1.0"/>
<path d="M152.98 495.42l3.2 3.2M152.98 498.62l3.2 -3.2" stroke="#00ff00" stroke-width="1.0"/>
<path d="M158.63 487.48l3.2 3.2M158.63 490.68l3.2 -3.2" stroke="#00ff00" stroke-width="1.0"/>
<path d="M160.58 493.93l3.2 3.2M160.58 497.13l3.2 -3.2" stroke="#00ff00" stroke-width="1.0"/>
<path d="M164.38 493.84l3.2 3.2M164.38 497.04l3.2 -3.2" stroke="#00ff00" stroke-width="1.0"/>
<path d="M169.74 489.30l3.2 3.2M169.74 492.50l3.2 -3.2" stroke="#00ff00" stroke-width="1.0"/>
<path d="M171.97 493.78l3.2 3.2M171.97 496.98l3.2 -3.2" stroke="#00ff00" stroke-width="1.0"/>
<path d="M176.00 489.30l3.2 3.2M176.00 492.50l3.2 -3.2" stroke="#00ff00" stroke-width="1.0"/>
<path d="M179.56 493.17l3.2 3.2M179.56 496.37l3.2 -3.2" stroke="#00ff00" stroke-width="1.0"/>
<path d="M179.70 484.36l3.2 3.2M179.70 487.56l3.2 -3.2" stroke="#00ff00" stroke-width="1.0"/>
<path d="M67.60 370.00V376.76" stroke="#0000ff" stroke-width="0.95" stroke-dasharray="0.9,1.3" fill="none"/>
<path d="M65.80 376.76h3.6" stroke="#0000ff" stroke-width="0.95" fill="none"/>
<path d="M71.40 370.00V379.36" stroke="#0000ff" stroke-width="0.95" stroke-dasharray="0.9,1.3" fill="none"/>
<path d="M69.60 370.00h3.6M69.60 379.36h3.6" stroke="#0000ff" stroke-width="0.95" fill="none"/>
<path d="M75.19 383.52V392.88" stroke="#0000ff" stroke-width="0.95" stroke-dasharray="0.9,1.3" fill="none"/>
<path d="M73.39 383.52h3.6M73.39 392.88h3.6" stroke="#0000ff" stroke-width="0.95" fill="none"/>
<path d="M78.99 380.40V389.76" stroke="#0000ff" stroke-width="0.95" stroke-dasharray="0.9,1.3" fill="none"/>
<path d="M77.19 380.40h3.6M77.19 389.76h3.6" stroke="#0000ff" stroke-width="0.95" fill="none"/>
<path d="M82.79 415.76V425.12" stroke="#0000ff" stroke-width="0.95" stroke-dasharray="0.9,1.3" fill="none"/>
<path d="M80.99 415.76h3.6M80.99 425.12h3.6" stroke="#0000ff" stroke-width="0.95" fill="none"/>
<path d="M86.58 405.36V414.72" stroke="#0000ff" stroke-width="0.95" stroke-dasharray="0.9,1.3" fill="none"/>
<path d="M84.78 405.36h3.6M84.78 414.72h3.6" stroke="#0000ff" stroke-width="0.95" fill="none"/>
<path d="M90.38 437.08V443.32" stroke="#0000ff" stroke-width="0.95" stroke-dasharray="0.9,1.3" fill="none"/>
<path d="M88.58 437.08h3.6M88.58 443.32h3.6" stroke="#0000ff" stroke-width="0.95" fill="none"/>
<path d="M94.18 434.74V440.98" stroke="#0000ff" stroke-width="0.95" stroke-dasharray="0.9,1.3" fill="none"/>
<path d="M92.38 434.74h3.6M92.38 440.98h3.6" stroke="#0000ff" stroke-width="0.95" fill="none"/>
<path d="M97.97 434.48V440.72" stroke="#0000ff" stroke-width="0.95" stroke-dasharray="0.9,1.3" fill="none"/>
<path d="M96.17 434.48h3.6M96.17 440.72h3.6" stroke="#0000ff" stroke-width="0.95" fill="none"/>
<path d="M101.77 452.68V458.92" stroke="#0000ff" stroke-width="0.95" stroke-dasharray="0.9,1.3" fill="none"/>
<path d="M99.97 452.68h3.6M99.97 458.92h3.6" stroke="#0000ff" stroke-width="0.95" fill="none"/>
<path d="M105.57 455.97V461.75" stroke="#0000ff" stroke-width="0.95" stroke-dasharray="0.9,1.3" fill="none"/>
<path d="M103.77 455.97h3.6M103.77 461.75h3.6" stroke="#0000ff" stroke-width="0.95" fill="none"/>
<path d="M109.36 461.10V466.44" stroke="#0000ff" stroke-width="0.95" stroke-dasharray="0.9,1.3" fill="none"/>
<path d="M107.56 461.10h3.6M107.56 466.44h3.6" stroke="#0000ff" stroke-width="0.95" fill="none"/>
<path d="M113.16 460.50V465.89" stroke="#0000ff" stroke-width="0.95" stroke-dasharray="0.9,1.3" fill="none"/>
<path d="M111.36 460.50h3.6M111.36 465.89h3.6" stroke="#0000ff" stroke-width="0.95" fill="none"/>
<path d="M116.96 468.49V473.19" stroke="#0000ff" stroke-width="0.95" stroke-dasharray="0.9,1.3" fill="none"/>
<path d="M115.16 468.49h3.6M115.16 473.19h3.6" stroke="#0000ff" stroke-width="0.95" fill="none"/>
<path d="M120.75 477.50V481.43" stroke="#0000ff" stroke-width="0.95" stroke-dasharray="0.9,1.3" fill="none"/>
<path d="M118.95 477.50h3.6M118.95 481.43h3.6" stroke="#0000ff" stroke-width="0.95" fill="none"/>
<path d="M124.55 483.11V486.55" stroke="#0000ff" stroke-width="0.95" stroke-dasharray="0.9,1.3" fill="none"/>
<path d="M122.75 483.11h3.6M122.75 486.55h3.6" stroke="#0000ff" stroke-width="0.95" fill="none"/>
<path d="M128.35 486.12V489.31" stroke="#0000ff" stroke-width="0.95" stroke-dasharray="0.9,1.3" fill="none"/>
<path d="M126.55 486.12h3.6M126.55 489.31h3.6" stroke="#0000ff" stroke-width="0.95" fill="none"/>
<path d="M132.15 490.52V493.33" stroke="#0000ff" stroke-width="0.95" stroke-dasharray="0.9,1.3" fill="none"/>
<path d="M130.35 490.52h3.6M130.35 493.33h3.6" stroke="#0000ff" stroke-width="0.95" fill="none"/>
<path d="M135.94 494.08V496.58" stroke="#0000ff" stroke-width="0.95" stroke-dasharray="0.9,1.3" fill="none"/>
<path d="M134.14 494.08h3.6M134.14 496.58h3.6" stroke="#0000ff" stroke-width="0.95" fill="none"/>
<path d="M139.74 495.84V498.19" stroke="#0000ff" stroke-width="0.95" stroke-dasharray="0.9,1.3" fill="none"/>
<path d="M137.94 495.84h3.6M137.94 498.19h3.6" stroke="#0000ff" stroke-width="0.95" fill="none"/>
<path d="M143.54 496.00V498.34" stroke="#0000ff" stroke-width="0.95" stroke-dasharray="0.9,1.3" fill="none"/>
<path d="M141.74 496.00h3.6M141.74 498.34h3.6" stroke="#0000ff" stroke-width="0.95" fill="none"/>
<path d="M147.33 496.59V498.88" stroke="#0000ff" stroke-width="0.95" stroke-dasharray="0.9,1.3" fill="none"/>
<path d="M145.53 496.59h3.6M145.53 498.88h3.6" stroke="#0000ff" stroke-width="0.95" fill="none"/>
<path d="M151.13 495.41V497.80" stroke="#0000ff" stroke-width="0.95" stroke-dasharray="0.9,1.3" fill="none"/>
<path d="M149.33 495.41h3.6M149.33 497.80h3.6" stroke="#0000ff" stroke-width="0.95" fill="none"/>
<path d="M154.93 494.28V496.77" stroke="#0000ff" stroke-width="0.95" stroke-dasharray="0.9,1.3" fill="none"/>
<path d="M153.13 494.28h3.6M153.13 496.77h3.6" stroke="#0000ff" stroke-width="0.95" fill="none"/>
<path d="M158.72 493.37V495.93" stroke="#0000ff" stroke-width="0.95" stroke-dasharray="0.9,1.3" fill="none"/>
<path d="M156.92 493.37h3.6M156.92 495.93h3.6" stroke="#0000ff" stroke-width="0.95" fill="none"/>
<path d="M162.52 492.76V495.37" stroke="#0000ff" stroke-width="0.95" stroke-dasharray="0.9,1.3" fill="none"/>
<path d="M160.72 492.76h3.6M160.72 495.37h3.6" stroke="#0000ff" stroke-width="0.95" fill="none"/>
<path d="M166.32 491.89V494.58" stroke="#0000ff" stroke-width="0.95" stroke-dasharray="0.9,1.3" fill="none"/>
<path d="M164.52 491.89h3.6M164.52 494.58h3.6" stroke="#0000ff" stroke-width="0.95" fill="none"/>
<path d="M170.11 492.05V494.73" stroke="#0000ff" stroke-width="0.95" stroke-dasharray="0.9,1.3" fill="none"/>
<path d="M168.31 492.05h3.6M168.31 494.73h3.6" stroke="#0000ff" stroke-width="0.95" fill="none"/>
<path d="M173.91 492.09V494.76" stroke="#0000ff" stroke-width="0.95" stroke-dasharray="0.9,1.3" fill="none"/>
<path d="M172.11 492.09h3.6M172.11 494.76h3.6" stroke="#0000ff" stroke-width="0.95" fill="none"/>
<path d="M177.71 491.76V494.46" stroke="#0000ff" stroke-width="0.95" stroke-dasharray="0.9,1.3" fill="none"/>
<path d="M175.91 491.76h3.6M175.91 494.46h3.6" stroke="#0000ff" stroke-width="0.95" fill="none"/>
<path d="M181.50 492.13V494.80" stroke="#0000ff" stroke-width="0.95" stroke-dasharray="0.9,1.3" fill="none"/>
<path d="M179.70 492.13h3.6M179.70 494.80h3.6" stroke="#0000ff" stroke-width="0.95" fill="none"/>
<rect x="65.80" y="370.28" width="3.6" height="3.6" fill="#0000ff"/>
<rect x="69.60" y="372.88" width="3.6" height="3.6" fill="#0000ff"/>
<rect x="73.39" y="386.40" width="3.6" height="3.6" fill="#0000ff"/>
<rect x="77.19" y="383.28" width="3.6" height="3.6" fill="#0000ff"/>
<rect x="80.99" y="418.64" width="3.6" height="3.6" fill="#0000ff"/>
<rect x="84.78" y="408.24" width="3.6" height="3.6" fill="#0000ff"/>
<rect x="88.58" y="438.40" width="3.6" height="3.6" fill="#0000ff"/>
<rect x="92.38" y="436.06" width="3.6" height="3.6" fill="#0000ff"/>
<rect x="96.17" y="435.80" width="3.6" height="3.6" fill="#0000ff"/>
<rect x="99.97" y="454.00" width="3.6" height="3.6" fill="#0000ff"/>
<rect x="103.77" y="457.06" width="3.6" height="3.6" fill="#0000ff"/>
<rect x="107.56" y="461.97" width="3.6" height="3.6" fill="#0000ff"/>
<rect x="111.36" y="461.40" width="3.6" height="3.6" fill="#0000ff"/>
<rect x="115.16" y="469.04" width="3.6" height="3.6" fill="#0000ff"/>
<rect x="118.95" y="477.66" width="3.6" height="3.6" fill="#0000ff"/>
<rect x="122.75" y="483.03" width="3.6" height="3.6" fill="#0000ff"/>
<rect x="126.55" y="485.92" width="3.6" height="3.6" fill="#0000ff"/>
<rect x="130.35" y="490.12" width="3.6" height="3.6" fill="#0000ff"/>
<rect x="134.14" y="493.53" width="3.6" height="3.6" fill="#0000ff"/>
<rect x="137.94" y="495.21" width="3.6" height="3.6" fill="#0000ff"/>
<rect x="141.74" y="495.37" width="3.6" height="3.6" fill="#0000ff"/>
<rect x="145.53" y="495.93" width="3.6" height="3.6" fill="#0000ff"/>
<rect x="149.33" y="494.80" width="3.6" height="3.6" fill="#0000ff"/>
<rect x="153.13" y="493.72" width="3.6" height="3.6" fill="#0000ff"/>
<rect x="156.92" y="492.85" width="3.6" height="3.6" fill="#0000ff"/>
<rect x="160.72" y="492.27" width="3.6" height="3.6" fill="#0000ff"/>
<rect x="164.52" y="491.44" width="3.6" height="3.6" fill="#0000ff"/>
<rect x="168.31" y="491.59" width="3.6" height="3.6" fill="#0000ff"/>
<rect x="172.11" y="491.62" width="3.6" height="3.6" fill="#0000ff"/>
<rect x="175.91" y="491.31" width="3.6" height="3.6" fill="#0000ff"/>
<rect x="179.70" y="491.67" width="3.6" height="3.6" fill="#0000ff"/>
<path d="M67.14 376.24V385.60" stroke="#ff00ff" stroke-width="0.65"  fill="none"/>
<path d="M65.34 376.24h3.6M65.34 385.60h3.6" stroke="#ff00ff" stroke-width="0.65" fill="none"/>
<path d="M70.94 371.04V380.40" stroke="#ff00ff" stroke-width="0.65"  fill="none"/>
<path d="M69.14 371.04h3.6M69.14 380.40h3.6" stroke="#ff00ff" stroke-width="0.65" fill="none"/>
<path d="M74.74 385.34V394.70" stroke="#ff00ff" stroke-width="0.65"  fill="none"/>
<path d="M72.94 385.34h3.6M72.94 394.70h3.6" stroke="#ff00ff" stroke-width="0.65" fill="none"/>
<path d="M78.53 384.82V394.18" stroke="#ff00ff" stroke-width="0.65"  fill="none"/>
<path d="M76.73 384.82h3.6M76.73 394.18h3.6" stroke="#ff00ff" stroke-width="0.65" fill="none"/>
<path d="M82.33 410.82V420.18" stroke="#ff00ff" stroke-width="0.65"  fill="none"/>
<path d="M80.53 410.82h3.6M80.53 420.18h3.6" stroke="#ff00ff" stroke-width="0.65" fill="none"/>
<path d="M86.13 415.24V424.60" stroke="#ff00ff" stroke-width="0.65"  fill="none"/>
<path d="M84.33 415.24h3.6M84.33 424.60h3.6" stroke="#ff00ff" stroke-width="0.65" fill="none"/>
<path d="M89.92 439.68V445.92" stroke="#ff00ff" stroke-width="0.65"  fill="none"/>
<path d="M88.12 439.68h3.6M88.12 445.92h3.6" stroke="#ff00ff" stroke-width="0.65" fill="none"/>
<path d="M93.72 436.82V443.06" stroke="#ff00ff" stroke-width="0.65"  fill="none"/>
<path d="M91.92 436.82h3.6M91.92 443.06h3.6" stroke="#ff00ff" stroke-width="0.65" fill="none"/>
<path d="M97.52 433.44V439.68" stroke="#ff00ff" stroke-width="0.65"  fill="none"/>
<path d="M95.72 433.44h3.6M95.72 439.68h3.6" stroke="#ff00ff" stroke-width="0.65" fill="none"/>
<path d="M101.32 451.12V457.36" stroke="#ff00ff" stroke-width="0.65"  fill="none"/>
<path d="M99.52 451.12h3.6M99.52 457.36h3.6" stroke="#ff00ff" stroke-width="0.65" fill="none"/>
<path d="M105.11 459.83V465.28" stroke="#ff00ff" stroke-width="0.65"  fill="none"/>
<path d="M103.31 459.83h3.6M103.31 465.28h3.6" stroke="#ff00ff" stroke-width="0.65" fill="none"/>
<path d="M108.91 461.54V466.85" stroke="#ff00ff" stroke-width="0.65"  fill="none"/>
<path d="M107.11 461.54h3.6M107.11 466.85h3.6" stroke="#ff00ff" stroke-width="0.65" fill="none"/>
<path d="M112.71 462.16V467.41" stroke="#ff00ff" stroke-width="0.65"  fill="none"/>
<path d="M110.91 462.16h3.6M110.91 467.41h3.6" stroke="#ff00ff" stroke-width="0.65" fill="none"/>
<path d="M116.50 466.92V471.75" stroke="#ff00ff" stroke-width="0.65"  fill="none"/>
<path d="M114.70 466.92h3.6M114.70 471.75h3.6" stroke="#ff00ff" stroke-width="0.65" fill="none"/>
<path d="M120.30 476.79V480.78" stroke="#ff00ff" stroke-width="0.65"  fill="none"/>
<path d="M118.50 476.79h3.6M118.50 480.78h3.6" stroke="#ff00ff" stroke-width="0.65" fill="none"/>
<path d="M124.10 483.94V487.31" stroke="#ff00ff" stroke-width="0.65"  fill="none"/>
<path d="M122.30 483.94h3.6M122.30 487.31h3.6" stroke="#ff00ff" stroke-width="0.65" fill="none"/>
<path d="M127.89 485.68V488.90" stroke="#ff00ff" stroke-width="0.65"  fill="none"/>
<path d="M126.09 485.68h3.6M126.09 488.90h3.6" stroke="#ff00ff" stroke-width="0.65" fill="none"/>
<path d="M131.69 491.72V494.42" stroke="#ff00ff" stroke-width="0.65"  fill="none"/>
<path d="M129.89 491.72h3.6M129.89 494.42h3.6" stroke="#ff00ff" stroke-width="0.65" fill="none"/>
<path d="M135.49 494.96V497.38" stroke="#ff00ff" stroke-width="0.65"  fill="none"/>
<path d="M133.69 494.96h3.6M133.69 497.38h3.6" stroke="#ff00ff" stroke-width="0.65" fill="none"/>
<path d="M139.28 496.44V498.74" stroke="#ff00ff" stroke-width="0.65"  fill="none"/>
<path d="M137.48 496.44h3.6M137.48 498.74h3.6" stroke="#ff00ff" stroke-width="0.65" fill="none"/>
<path d="M143.08 496.55V498.84" stroke="#ff00ff" stroke-width="0.65"  fill="none"/>
<path d="M141.28 496.55h3.6M141.28 498.84h3.6" stroke="#ff00ff" stroke-width="0.65" fill="none"/>
<path d="M146.88 496.24V498.56" stroke="#ff00ff" stroke-width="0.65"  fill="none"/>
<path d="M145.08 496.24h3.6M145.08 498.56h3.6" stroke="#ff00ff" stroke-width="0.65" fill="none"/>
<path d="M150.67 495.49V497.87" stroke="#ff00ff" stroke-width="0.65"  fill="none"/>
<path d="M148.87 495.49h3.6M148.87 497.87h3.6" stroke="#ff00ff" stroke-width="0.65" fill="none"/>
<path d="M154.47 494.84V497.28" stroke="#ff00ff" stroke-width="0.65"  fill="none"/>
<path d="M152.67 494.84h3.6M152.67 497.28h3.6" stroke="#ff00ff" stroke-width="0.65" fill="none"/>
<path d="M158.27 493.14V495.72" stroke="#ff00ff" stroke-width="0.65"  fill="none"/>
<path d="M156.47 493.14h3.6M156.47 495.72h3.6" stroke="#ff00ff" stroke-width="0.65" fill="none"/>
<path d="M162.06 493.24V495.82" stroke="#ff00ff" stroke-width="0.65"  fill="none"/>
<path d="M160.26 493.24h3.6M160.26 495.82h3.6" stroke="#ff00ff" stroke-width="0.65" fill="none"/>
<path d="M165.86 491.87V494.56" stroke="#ff00ff" stroke-width="0.65"  fill="none"/>
<path d="M164.06 491.87h3.6M164.06 494.56h3.6" stroke="#ff00ff" stroke-width="0.65" fill="none"/>
<path d="M169.66 492.62V495.25" stroke="#ff00ff" stroke-width="0.65"  fill="none"/>
<path d="M167.86 492.62h3.6M167.86 495.25h3.6" stroke="#ff00ff" stroke-width="0.65" fill="none"/>
<path d="M173.45 492.19V494.85" stroke="#ff00ff" stroke-width="0.65"  fill="none"/>
<path d="M171.65 492.19h3.6M171.65 494.85h3.6" stroke="#ff00ff" stroke-width="0.65" fill="none"/>
<path d="M177.25 491.99V494.67" stroke="#ff00ff" stroke-width="0.65"  fill="none"/>
<path d="M175.45 491.99h3.6M175.45 494.67h3.6" stroke="#ff00ff" stroke-width="0.65" fill="none"/>
<path d="M181.05 492.60V495.23" stroke="#ff00ff" stroke-width="0.65"  fill="none"/>
<path d="M179.25 492.60h3.6M179.25 495.23h3.6" stroke="#ff00ff" stroke-width="0.65" fill="none"/>
<rect x="65.04" y="378.82" width="4.2" height="4.2" fill="none" stroke="#ff00ff" stroke-width="1.1"/>
<rect x="68.84" y="373.62" width="4.2" height="4.2" fill="none" stroke="#ff00ff" stroke-width="1.1"/>
<rect x="72.64" y="387.92" width="4.2" height="4.2" fill="none" stroke="#ff00ff" stroke-width="1.1"/>
<rect x="76.43" y="387.40" width="4.2" height="4.2" fill="none" stroke="#ff00ff" stroke-width="1.1"/>
<rect x="80.23" y="413.40" width="4.2" height="4.2" fill="none" stroke="#ff00ff" stroke-width="1.1"/>
<rect x="84.03" y="417.82" width="4.2" height="4.2" fill="none" stroke="#ff00ff" stroke-width="1.1"/>
<rect x="87.82" y="440.70" width="4.2" height="4.2" fill="none" stroke="#ff00ff" stroke-width="1.1"/>
<rect x="91.62" y="437.84" width="4.2" height="4.2" fill="none" stroke="#ff00ff" stroke-width="1.1"/>
<rect x="95.42" y="434.46" width="4.2" height="4.2" fill="none" stroke="#ff00ff" stroke-width="1.1"/>
<rect x="99.22" y="452.14" width="4.2" height="4.2" fill="none" stroke="#ff00ff" stroke-width="1.1"/>
<rect x="103.01" y="460.46" width="4.2" height="4.2" fill="none" stroke="#ff00ff" stroke-width="1.1"/>
<rect x="106.81" y="462.10" width="4.2" height="4.2" fill="none" stroke="#ff00ff" stroke-width="1.1"/>
<rect x="110.61" y="462.68" width="4.2" height="4.2" fill="none" stroke="#ff00ff" stroke-width="1.1"/>
<rect x="114.40" y="467.23" width="4.2" height="4.2" fill="none" stroke="#ff00ff" stroke-width="1.1"/>
<rect x="118.20" y="476.69" width="4.2" height="4.2" fill="none" stroke="#ff00ff" stroke-width="1.1"/>
<rect x="122.00" y="483.52" width="4.2" height="4.2" fill="none" stroke="#ff00ff" stroke-width="1.1"/>
<rect x="125.79" y="485.19" width="4.2" height="4.2" fill="none" stroke="#ff00ff" stroke-width="1.1"/>
<rect x="129.59" y="490.97" width="4.2" height="4.2" fill="none" stroke="#ff00ff" stroke-width="1.1"/>
<rect x="133.39" y="494.07" width="4.2" height="4.2" fill="none" stroke="#ff00ff" stroke-width="1.1"/>
<rect x="137.18" y="495.49" width="4.2" height="4.2" fill="none" stroke="#ff00ff" stroke-width="1.1"/>
<rect x="140.98" y="495.60" width="4.2" height="4.2" fill="none" stroke="#ff00ff" stroke-width="1.1"/>
<rect x="144.78" y="495.30" width="4.2" height="4.2" fill="none" stroke="#ff00ff" stroke-width="1.1"/>
<rect x="148.57" y="494.58" width="4.2" height="4.2" fill="none" stroke="#ff00ff" stroke-width="1.1"/>
<rect x="152.37" y="493.96" width="4.2" height="4.2" fill="none" stroke="#ff00ff" stroke-width="1.1"/>
<rect x="156.17" y="492.33" width="4.2" height="4.2" fill="none" stroke="#ff00ff" stroke-width="1.1"/>
<rect x="159.96" y="492.43" width="4.2" height="4.2" fill="none" stroke="#ff00ff" stroke-width="1.1"/>
<rect x="163.76" y="491.12" width="4.2" height="4.2" fill="none" stroke="#ff00ff" stroke-width="1.1"/>
<rect x="167.56" y="491.84" width="4.2" height="4.2" fill="none" stroke="#ff00ff" stroke-width="1.1"/>
<rect x="171.35" y="491.42" width="4.2" height="4.2" fill="none" stroke="#ff00ff" stroke-width="1.1"/>
<rect x="175.15" y="491.23" width="4.2" height="4.2" fill="none" stroke="#ff00ff" stroke-width="1.1"/>
<rect x="178.95" y="491.81" width="4.2" height="4.2" fill="none" stroke="#ff00ff" stroke-width="1.1"/>
<path d="M67.37 374.94V384.30" stroke="#00ffff" stroke-width="0.95" stroke-dasharray="3,1.2,1,1.2" fill="none"/>
<path d="M65.57 374.94h3.6M65.57 384.30h3.6" stroke="#00ffff" stroke-width="0.95" fill="none"/>
<path d="M71.17 385.86V395.22" stroke="#00ffff" stroke-width="0.95" stroke-dasharray="3,1.2,1,1.2" fill="none"/>
<path d="M69.37 385.86h3.6M69.37 395.22h3.6" stroke="#00ffff" stroke-width="0.95" fill="none"/>
<path d="M74.97 381.96V391.32" stroke="#00ffff" stroke-width="0.95" stroke-dasharray="3,1.2,1,1.2" fill="none"/>
<path d="M73.17 381.96h3.6M73.17 391.32h3.6" stroke="#00ffff" stroke-width="0.95" fill="none"/>
<path d="M78.76 382.74V392.10" stroke="#00ffff" stroke-width="0.95" stroke-dasharray="3,1.2,1,1.2" fill="none"/>
<path d="M76.96 382.74h3.6M76.96 392.10h3.6" stroke="#00ffff" stroke-width="0.95" fill="none"/>
<path d="M82.56 401.46V410.82" stroke="#00ffff" stroke-width="0.95" stroke-dasharray="3,1.2,1,1.2" fill="none"/>
<path d="M80.76 401.46h3.6M80.76 410.82h3.6" stroke="#00ffff" stroke-width="0.95" fill="none"/>
<path d="M86.36 418.62V427.98" stroke="#00ffff" stroke-width="0.95" stroke-dasharray="3,1.2,1,1.2" fill="none"/>
<path d="M84.56 418.62h3.6M84.56 427.98h3.6" stroke="#00ffff" stroke-width="0.95" fill="none"/>
<path d="M90.15 438.38V444.62" stroke="#00ffff" stroke-width="0.95" stroke-dasharray="3,1.2,1,1.2" fill="none"/>
<path d="M88.35 438.38h3.6M88.35 444.62h3.6" stroke="#00ffff" stroke-width="0.95" fill="none"/>
<path d="M93.95 429.54V435.78" stroke="#00ffff" stroke-width="0.95" stroke-dasharray="3,1.2,1,1.2" fill="none"/>
<path d="M92.15 429.54h3.6M92.15 435.78h3.6" stroke="#00ffff" stroke-width="0.95" fill="none"/>
<path d="M97.75 436.82V443.06" stroke="#00ffff" stroke-width="0.95" stroke-dasharray="3,1.2,1,1.2" fill="none"/>
<path d="M95.95 436.82h3.6M95.95 443.06h3.6" stroke="#00ffff" stroke-width="0.95" fill="none"/>
<path d="M101.54 454.50V460.74" stroke="#00ffff" stroke-width="0.95" stroke-dasharray="3,1.2,1,1.2" fill="none"/>
<path d="M99.74 454.50h3.6M99.74 460.74h3.6" stroke="#00ffff" stroke-width="0.95" fill="none"/>
<path d="M105.34 458.58V464.14" stroke="#00ffff" stroke-width="0.95" stroke-dasharray="3,1.2,1,1.2" fill="none"/>
<path d="M103.54 458.58h3.6M103.54 464.14h3.6" stroke="#00ffff" stroke-width="0.95" fill="none"/>
<path d="M109.14 464.24V469.31" stroke="#00ffff" stroke-width="0.95" stroke-dasharray="3,1.2,1,1.2" fill="none"/>
<path d="M107.34 464.24h3.6M107.34 469.31h3.6" stroke="#00ffff" stroke-width="0.95" fill="none"/>
<path d="M112.93 465.30V470.28" stroke="#00ffff" stroke-width="0.95" stroke-dasharray="3,1.2,1,1.2" fill="none"/>
<path d="M111.13 465.30h3.6M111.13 470.28h3.6" stroke="#00ffff" stroke-width="0.95" fill="none"/>
<path d="M116.73 469.99V474.56" stroke="#00ffff" stroke-width="0.95" stroke-dasharray="3,1.2,1,1.2" fill="none"/>
<path d="M114.93 469.99h3.6M114.93 474.56h3.6" stroke="#00ffff" stroke-width="0.95" fill="none"/>
<path d="M120.53 479.15V482.94" stroke="#00ffff" stroke-width="0.95" stroke-dasharray="3,1.2,1,1.2" fill="none"/>
<path d="M118.73 479.15h3.6M118.73 482.94h3.6" stroke="#00ffff" stroke-width="0.95" fill="none"/>
<path d="M124.32 484.32V487.66" stroke="#00ffff" stroke-width="0.95" stroke-dasharray="3,1.2,1,1.2" fill="none"/>
<path d="M122.52 484.32h3.6M122.52 487.66h3.6" stroke="#00ffff" stroke-width="0.95" fill="none"/>
<path d="M128.12 487.08V490.18" stroke="#00ffff" stroke-width="0.95" stroke-dasharray="3,1.2,1,1.2" fill="none"/>
<path d="M126.32 487.08h3.6M126.32 490.18h3.6" stroke="#00ffff" stroke-width="0.95" fill="none"/>
<path d="M131.92 490.82V493.61" stroke="#00ffff" stroke-width="0.95" stroke-dasharray="3,1.2,1,1.2" fill="none"/>
<path d="M130.12 490.82h3.6M130.12 493.61h3.6" stroke="#00ffff" stroke-width="0.95" fill="none"/>
<path d="M135.71 495.34V497.73" stroke="#00ffff" stroke-width="0.95" stroke-dasharray="3,1.2,1,1.2" fill="none"/>
<path d="M133.91 495.34h3.6M133.91 497.73h3.6" stroke="#00ffff" stroke-width="0.95" fill="none"/>
<path d="M139.51 496.36V498.67" stroke="#00ffff" stroke-width="0.95" stroke-dasharray="3,1.2,1,1.2" fill="none"/>
<path d="M137.71 496.36h3.6M137.71 498.67h3.6" stroke="#00ffff" stroke-width="0.95" fill="none"/>
<path d="M143.31 496.69V498.97" stroke="#00ffff" stroke-width="0.95" stroke-dasharray="3,1.2,1,1.2" fill="none"/>
<path d="M141.51 496.69h3.6M141.51 498.97h3.6" stroke="#00ffff" stroke-width="0.95" fill="none"/>
<path d="M147.10 496.51V498.80" stroke="#00ffff" stroke-width="0.95" stroke-dasharray="3,1.2,1,1.2" fill="none"/>
<path d="M145.30 496.51h3.6M145.30 498.80h3.6" stroke="#00ffff" stroke-width="0.95" fill="none"/>
<path d="M150.90 496.49V498.78" stroke="#00ffff" stroke-width="0.95" stroke-dasharray="3,1.2,1,1.2" fill="none"/>
<path d="M149.10 496.49h3.6M149.10 498.78h3.6" stroke="#00ffff" stroke-width="0.95" fill="none"/>
<path d="M154.70 495.57V497.94" stroke="#00ffff" stroke-width="0.95" stroke-dasharray="3,1.2,1,1.2" fill="none"/>
<path d="M152.90 495.57h3.6M152.90 497.94h3.6" stroke="#00ffff" stroke-width="0.95" fill="none"/>
<path d="M158.50 494.03V496.53" stroke="#00ffff" stroke-width="0.95" stroke-dasharray="3,1.2,1,1.2" fill="none"/>
<path d="M156.70 494.03h3.6M156.70 496.53h3.6" stroke="#00ffff" stroke-width="0.95" fill="none"/>
<path d="M162.29 492.92V495.52" stroke="#00ffff" stroke-width="0.95" stroke-dasharray="3,1.2,1,1.2" fill="none"/>
<path d="M160.49 492.92h3.6M160.49 495.52h3.6" stroke="#00ffff" stroke-width="0.95" fill="none"/>
<path d="M166.09 492.50V495.14" stroke="#00ffff" stroke-width="0.95" stroke-dasharray="3,1.2,1,1.2" fill="none"/>
<path d="M164.29 492.50h3.6M164.29 495.14h3.6" stroke="#00ffff" stroke-width="0.95" fill="none"/>
<path d="M169.89 492.65V495.28" stroke="#00ffff" stroke-width="0.95" stroke-dasharray="3,1.2,1,1.2" fill="none"/>
<path d="M168.09 492.65h3.6M168.09 495.28h3.6" stroke="#00ffff" stroke-width="0.95" fill="none"/>
<path d="M173.68 492.28V494.94" stroke="#00ffff" stroke-width="0.95" stroke-dasharray="3,1.2,1,1.2" fill="none"/>
<path d="M171.88 492.28h3.6M171.88 494.94h3.6" stroke="#00ffff" stroke-width="0.95" fill="none"/>
<path d="M177.48 492.72V495.34" stroke="#00ffff" stroke-width="0.95" stroke-dasharray="3,1.2,1,1.2" fill="none"/>
<path d="M175.68 492.72h3.6M175.68 495.34h3.6" stroke="#00ffff" stroke-width="0.95" fill="none"/>
<path d="M181.28 492.96V495.56" stroke="#00ffff" stroke-width="0.95" stroke-dasharray="3,1.2,1,1.2" fill="none"/>
<path d="M179.48 492.96h3.6M179.48 495.56h3.6" stroke="#00ffff" stroke-width="0.95" fill="none"/>
<rect x="65.37" y="377.62" width="4" height="4" fill="#00ffff"/>
<rect x="69.17" y="388.54" width="4" height="4" fill="#00ffff"/>
<rect x="72.97" y="384.64" width="4" height="4" fill="#00ffff"/>
<rect x="76.76" y="385.42" width="4" height="4" fill="#00ffff"/>
<rect x="80.56" y="404.14" width="4" height="4" fill="#00ffff"/>
<rect x="84.36" y="421.30" width="4" height="4" fill="#00ffff"/>
<rect x="88.15" y="439.50" width="4" height="4" fill="#00ffff"/>
<rect x="91.95" y="430.66" width="4" height="4" fill="#00ffff"/>
<rect x="95.75" y="437.94" width="4" height="4" fill="#00ffff"/>
<rect x="99.54" y="455.62" width="4" height="4" fill="#00ffff"/>
<rect x="103.34" y="459.36" width="4" height="4" fill="#00ffff"/>
<rect x="107.14" y="464.77" width="4" height="4" fill="#00ffff"/>
<rect x="110.93" y="465.79" width="4" height="4" fill="#00ffff"/>
<rect x="114.73" y="470.27" width="4" height="4" fill="#00ffff"/>
<rect x="118.53" y="479.05" width="4" height="4" fill="#00ffff"/>
<rect x="122.32" y="483.99" width="4" height="4" fill="#00ffff"/>
<rect x="126.12" y="486.63" width="4" height="4" fill="#00ffff"/>
<rect x="129.92" y="490.22" width="4" height="4" fill="#00ffff"/>
<rect x="133.71" y="494.53" width="4" height="4" fill="#00ffff"/>
<rect x="137.51" y="495.51" width="4" height="4" fill="#00ffff"/>
<rect x="141.31" y="495.83" width="4" height="4" fill="#00ffff"/>
<rect x="145.10" y="495.66" width="4" height="4" fill="#00ffff"/>
<rect x="148.90" y="495.63" width="4" height="4" fill="#00ffff"/>
<rect x="152.70" y="494.76" width="4" height="4" fill="#00ffff"/>
<rect x="156.50" y="493.28" width="4" height="4" fill="#00ffff"/>
<rect x="160.29" y="492.22" width="4" height="4" fill="#00ffff"/>
<rect x="164.09" y="491.82" width="4" height="4" fill="#00ffff"/>
<rect x="167.89" y="491.97" width="4" height="4" fill="#00ffff"/>
<rect x="171.68" y="491.61" width="4" height="4" fill="#00ffff"/>
<rect x="175.48" y="492.03" width="4" height="4" fill="#00ffff"/>
<rect x="179.28" y="492.26" width="4" height="4" fill="#00ffff"/>
</g>
<g clip-path="url(#clf)">
<path d="M298.46 384.04V392.36" stroke="#ff0000" stroke-width="1.0"  fill="none"/>
<path d="M296.66 384.04h3.6M296.66 392.36h3.6" stroke="#ff0000" stroke-width="1.0" fill="none"/>
<path d="M302.25 391.84V400.16" stroke="#ff0000" stroke-width="1.0"  fill="none"/>
<path d="M300.45 391.84h3.6M300.45 400.16h3.6" stroke="#ff0000" stroke-width="1.0" fill="none"/>
<path d="M306.03 406.14V414.46" stroke="#ff0000" stroke-width="1.0"  fill="none"/>
<path d="M304.23 406.14h3.6M304.23 414.46h3.6" stroke="#ff0000" stroke-width="1.0" fill="none"/>
<path d="M309.82 397.82V406.14" stroke="#ff0000" stroke-width="1.0"  fill="none"/>
<path d="M308.02 397.82h3.6M308.02 406.14h3.6" stroke="#ff0000" stroke-width="1.0" fill="none"/>
<path d="M313.60 401.20V409.52" stroke="#ff0000" stroke-width="1.0"  fill="none"/>
<path d="M311.80 401.20h3.6M311.80 409.52h3.6" stroke="#ff0000" stroke-width="1.0" fill="none"/>
<path d="M317.39 417.84V426.16" stroke="#ff0000" stroke-width="1.0"  fill="none"/>
<path d="M315.59 417.84h3.6M315.59 426.16h3.6" stroke="#ff0000" stroke-width="1.0" fill="none"/>
<path d="M321.17 416.54V424.86" stroke="#ff0000" stroke-width="1.0"  fill="none"/>
<path d="M319.37 416.54h3.6M319.37 424.86h3.6" stroke="#ff0000" stroke-width="1.0" fill="none"/>
<path d="M324.96 425.64V433.96" stroke="#ff0000" stroke-width="1.0"  fill="none"/>
<path d="M323.16 425.64h3.6M323.16 433.96h3.6" stroke="#ff0000" stroke-width="1.0" fill="none"/>
<path d="M328.75 439.68V445.92" stroke="#ff0000" stroke-width="1.0"  fill="none"/>
<path d="M326.95 439.68h3.6M326.95 445.92h3.6" stroke="#ff0000" stroke-width="1.0" fill="none"/>
<path d="M332.53 450.50V455.90" stroke="#ff0000" stroke-width="1.0"  fill="none"/>
<path d="M330.73 450.50h3.6M330.73 455.90h3.6" stroke="#ff0000" stroke-width="1.0" fill="none"/>
<path d="M336.32 459.15V463.89" stroke="#ff0000" stroke-width="1.0"  fill="none"/>
<path d="M334.52 459.15h3.6M334.52 463.89h3.6" stroke="#ff0000" stroke-width="1.0" fill="none"/>
<path d="M340.10 467.65V471.93" stroke="#ff0000" stroke-width="1.0"  fill="none"/>
<path d="M338.30 467.65h3.6M338.30 471.93h3.6" stroke="#ff0000" stroke-width="1.0" fill="none"/>
<path d="M343.89 474.08V477.81" stroke="#ff0000" stroke-width="1.0"  fill="none"/>
<path d="M342.09 474.08h3.6M342.09 477.81h3.6" stroke="#ff0000" stroke-width="1.0" fill="none"/>
<path d="M347.67 479.49V482.75" stroke="#ff0000" stroke-width="1.0"  fill="none"/>
<path d="M345.87 479.49h3.6M345.87 482.75h3.6" stroke="#ff0000" stroke-width="1.0" fill="none"/>
<path d="M351.46 477.25V480.70" stroke="#ff0000" stroke-width="1.0"  fill="none"/>
<path d="M349.66 477.25h3.6M349.66 480.70h3.6" stroke="#ff0000" stroke-width="1.0" fill="none"/>
<path d="M355.25 481.28V484.39" stroke="#ff0000" stroke-width="1.0"  fill="none"/>
<path d="M353.45 481.28h3.6M353.45 484.39h3.6" stroke="#ff0000" stroke-width="1.0" fill="none"/>
<path d="M359.03 484.77V487.57" stroke="#ff0000" stroke-width="1.0"  fill="none"/>
<path d="M357.23 484.77h3.6M357.23 487.57h3.6" stroke="#ff0000" stroke-width="1.0" fill="none"/>
<path d="M362.82 486.57V489.22" stroke="#ff0000" stroke-width="1.0"  fill="none"/>
<path d="M361.02 486.57h3.6M361.02 489.22h3.6" stroke="#ff0000" stroke-width="1.0" fill="none"/>
<path d="M366.60 487.19V489.78" stroke="#ff0000" stroke-width="1.0"  fill="none"/>
<path d="M364.80 487.19h3.6M364.80 489.78h3.6" stroke="#ff0000" stroke-width="1.0" fill="none"/>
<path d="M370.39 488.14V490.65" stroke="#ff0000" stroke-width="1.0"  fill="none"/>
<path d="M368.59 488.14h3.6M368.59 490.65h3.6" stroke="#ff0000" stroke-width="1.0" fill="none"/>
<path d="M374.17 486.12V488.81" stroke="#ff0000" stroke-width="1.0"  fill="none"/>
<path d="M372.37 486.12h3.6M372.37 488.81h3.6" stroke="#ff0000" stroke-width="1.0" fill="none"/>
<path d="M377.96 489.20V491.63" stroke="#ff0000" stroke-width="1.0"  fill="none"/>
<path d="M376.16 489.20h3.6M376.16 491.63h3.6" stroke="#ff0000" stroke-width="1.0" fill="none"/>
<path d="M381.75 490.13V492.47" stroke="#ff0000" stroke-width="1.0"  fill="none"/>
<path d="M379.95 490.13h3.6M379.95 492.47h3.6" stroke="#ff0000" stroke-width="1.0" fill="none"/>
<path d="M385.53 490.56V492.86" stroke="#ff0000" stroke-width="1.0"  fill="none"/>
<path d="M383.73 490.56h3.6M383.73 492.86h3.6" stroke="#ff0000" stroke-width="1.0" fill="none"/>
<path d="M389.32 491.15V493.41" stroke="#ff0000" stroke-width="1.0"  fill="none"/>
<path d="M387.52 491.15h3.6M387.52 493.41h3.6" stroke="#ff0000" stroke-width="1.0" fill="none"/>
<path d="M393.10 492.24V494.40" stroke="#ff0000" stroke-width="1.0"  fill="none"/>
<path d="M391.30 492.24h3.6M391.30 494.40h3.6" stroke="#ff0000" stroke-width="1.0" fill="none"/>
<path d="M396.89 491.19V493.44" stroke="#ff0000" stroke-width="1.0"  fill="none"/>
<path d="M395.09 491.19h3.6M395.09 493.44h3.6" stroke="#ff0000" stroke-width="1.0" fill="none"/>
<path d="M296.46 388.20h4M298.46 386.20v4" stroke="#ff0000" stroke-width="1.1"/>
<path d="M300.25 396.00h4M302.25 394.00v4" stroke="#ff0000" stroke-width="1.1"/>
<path d="M304.03 410.30h4M306.03 408.30v4" stroke="#ff0000" stroke-width="1.1"/>
<path d="M307.82 401.98h4M309.82 399.98v4" stroke="#ff0000" stroke-width="1.1"/>
<path d="M311.60 405.36h4M313.60 403.36v4" stroke="#ff0000" stroke-width="1.1"/>
<path d="M315.39 422.00h4M317.39 420.00v4" stroke="#ff0000" stroke-width="1.1"/>
<path d="M319.17 420.70h4M321.17 418.70v4" stroke="#ff0000" stroke-width="1.1"/>
<path d="M322.96 429.80h4M324.96 427.80v4" stroke="#ff0000" stroke-width="1.1"/>
<path d="M326.75 442.80h4M328.75 440.80v4" stroke="#ff0000" stroke-width="1.1"/>
<path d="M330.53 453.20h4M332.53 451.20v4" stroke="#ff0000" stroke-width="1.1"/>
<path d="M334.32 461.52h4M336.32 459.52v4" stroke="#ff0000" stroke-width="1.1"/>
<path d="M338.10 469.79h4M340.10 467.79v4" stroke="#ff0000" stroke-width="1.1"/>
<path d="M341.89 475.94h4M343.89 473.94v4" stroke="#ff0000" stroke-width="1.1"/>
<path d="M345.67 481.12h4M347.67 479.12v4" stroke="#ff0000" stroke-width="1.1"/>
<path d="M349.46 478.98h4M351.46 476.98v4" stroke="#ff0000" stroke-width="1.1"/>
<path d="M353.25 482.84h4M355.25 480.84v4" stroke="#ff0000" stroke-width="1.1"/>
<path d="M357.03 486.17h4M359.03 484.17v4" stroke="#ff0000" stroke-width="1.1"/>
<path d="M360.82 487.90h4M362.82 485.90v4" stroke="#ff0000" stroke-width="1.1"/>
<path d="M364.60 488.49h4M366.60 486.49v4" stroke="#ff0000" stroke-width="1.1"/>
<path d="M368.39 489.39h4M370.39 487.39v4" stroke="#ff0000" stroke-width="1.1"/>
<path d="M372.17 487.46h4M374.17 485.46v4" stroke="#ff0000" stroke-width="1.1"/>
<path d="M375.96 490.42h4M377.96 488.42v4" stroke="#ff0000" stroke-width="1.1"/>
<path d="M379.75 491.30h4M381.75 489.30v4" stroke="#ff0000" stroke-width="1.1"/>
<path d="M383.53 491.71h4M385.53 489.71v4" stroke="#ff0000" stroke-width="1.1"/>
<path d="M387.32 492.28h4M389.32 490.28v4" stroke="#ff0000" stroke-width="1.1"/>
<path d="M391.10 493.32h4M393.10 491.32v4" stroke="#ff0000" stroke-width="1.1"/>
<path d="M394.89 492.31h4M396.89 490.31v4" stroke="#ff0000" stroke-width="1.1"/>
<path d="M283.09 370.00V370.00" stroke="#00ff00" stroke-width="0.9" stroke-dasharray="2.2,1.6" fill="none"/>
<path d="M281.29 370.00h3.6" stroke="#00ff00" stroke-width="0.9" fill="none"/>
<path d="M286.88 370.00V370.00" stroke="#00ff00" stroke-width="0.9" stroke-dasharray="2.2,1.6" fill="none"/>
<path d="M285.08 370.00h3.6" stroke="#00ff00" stroke-width="0.9" fill="none"/>
<path d="M290.66 370.00V370.00" stroke="#00ff00" stroke-width="0.9" stroke-dasharray="2.2,1.6" fill="none"/>
<path d="M288.86 370.00h3.6" stroke="#00ff00" stroke-width="0.9" fill="none"/>
<path d="M294.45 370.00V378.32" stroke="#00ff00" stroke-width="0.9" stroke-dasharray="2.2,1.6" fill="none"/>
<path d="M292.65 378.32h3.6" stroke="#00ff00" stroke-width="0.9" fill="none"/>
<path d="M298.23 387.68V398.08" stroke="#00ff00" stroke-width="0.9" stroke-dasharray="2.2,1.6" fill="none"/>
<path d="M296.43 387.68h3.6M296.43 398.08h3.6" stroke="#00ff00" stroke-width="0.9" fill="none"/>
<path d="M302.02 391.32V401.72" stroke="#00ff00" stroke-width="0.9" stroke-dasharray="2.2,1.6" fill="none"/>
<path d="M300.22 391.32h3.6M300.22 401.72h3.6" stroke="#00ff00" stroke-width="0.9" fill="none"/>
<path d="M305.80 411.60V422.00" stroke="#00ff00" stroke-width="0.9" stroke-dasharray="2.2,1.6" fill="none"/>
<path d="M304.00 411.60h3.6M304.00 422.00h3.6" stroke="#00ff00" stroke-width="0.9" fill="none"/>
<path d="M309.59 405.10V415.50" stroke="#00ff00" stroke-width="0.9" stroke-dasharray="2.2,1.6" fill="none"/>
<path d="M307.79 405.10h3.6M307.79 415.50h3.6" stroke="#00ff00" stroke-width="0.9" fill="none"/>
<path d="M313.38 407.44V417.84" stroke="#00ff00" stroke-width="0.9" stroke-dasharray="2.2,1.6" fill="none"/>
<path d="M311.58 407.44h3.6M311.58 417.84h3.6" stroke="#00ff00" stroke-width="0.9" fill="none"/>
<path d="M317.16 419.40V429.80" stroke="#00ff00" stroke-width="0.9" stroke-dasharray="2.2,1.6" fill="none"/>
<path d="M315.36 419.40h3.6M315.36 429.80h3.6" stroke="#00ff00" stroke-width="0.9" fill="none"/>
<path d="M320.95 410.82V421.22" stroke="#00ff00" stroke-width="0.9" stroke-dasharray="2.2,1.6" fill="none"/>
<path d="M319.15 410.82h3.6M319.15 421.22h3.6" stroke="#00ff00" stroke-width="0.9" fill="none"/>
<path d="M324.73 417.32V427.72" stroke="#00ff00" stroke-width="0.9" stroke-dasharray="2.2,1.6" fill="none"/>
<path d="M322.93 417.32h3.6M322.93 427.72h3.6" stroke="#00ff00" stroke-width="0.9" fill="none"/>
<path d="M328.52 441.08V448.68" stroke="#00ff00" stroke-width="0.9" stroke-dasharray="2.2,1.6" fill="none"/>
<path d="M326.72 441.08h3.6M326.72 448.68h3.6" stroke="#00ff00" stroke-width="0.9" fill="none"/>
<path d="M332.30 452.00V458.56" stroke="#00ff00" stroke-width="0.9" stroke-dasharray="2.2,1.6" fill="none"/>
<path d="M330.50 452.00h3.6M330.50 458.56h3.6" stroke="#00ff00" stroke-width="0.9" fill="none"/>
<path d="M336.09 460.19V465.97" stroke="#00ff00" stroke-width="0.9" stroke-dasharray="2.2,1.6" fill="none"/>
<path d="M334.29 460.19h3.6M334.29 465.97h3.6" stroke="#00ff00" stroke-width="0.9" fill="none"/>
<path d="M339.88 469.13V473.17" stroke="#00ff00" stroke-width="0.9" stroke-dasharray="2.2,1.6" fill="none"/>
<path d="M338.08 469.13h3.6M338.08 473.17h3.6" stroke="#00ff00" stroke-width="0.9" fill="none"/>
<path d="M343.66 475.22V478.83" stroke="#00ff00" stroke-width="0.9" stroke-dasharray="2.2,1.6" fill="none"/>
<path d="M341.86 475.22h3.6M341.86 478.83h3.6" stroke="#00ff00" stroke-width="0.9" fill="none"/>
<path d="M347.45 479.07V482.23" stroke="#00ff00" stroke-width="0.9" stroke-dasharray="2.2,1.6" fill="none"/>
<path d="M345.65 479.07h3.6M345.65 482.23h3.6" stroke="#00ff00" stroke-width="0.9" fill="none"/>
<path d="M351.23 478.62V481.97" stroke="#00ff00" stroke-width="0.9" stroke-dasharray="2.2,1.6" fill="none"/>
<path d="M349.43 478.62h3.6M349.43 481.97h3.6" stroke="#00ff00" stroke-width="0.9" fill="none"/>
<path d="M355.02 481.72V484.77" stroke="#00ff00" stroke-width="0.9" stroke-dasharray="2.2,1.6" fill="none"/>
<path d="M353.22 481.72h3.6M353.22 484.77h3.6" stroke="#00ff00" stroke-width="0.9" fill="none"/>
<path d="M358.80 485.77V488.53" stroke="#00ff00" stroke-width="0.9" stroke-dasharray="2.2,1.6" fill="none"/>
<path d="M357.00 485.77h3.6M357.00 488.53h3.6" stroke="#00ff00" stroke-width="0.9" fill="none"/>
<path d="M362.59 487.61V490.21" stroke="#00ff00" stroke-width="0.9" stroke-dasharray="2.2,1.6" fill="none"/>
<path d="M360.79 487.61h3.6M360.79 490.21h3.6" stroke="#00ff00" stroke-width="0.9" fill="none"/>
<path d="M366.38 486.73V489.32" stroke="#00ff00" stroke-width="0.9" stroke-dasharray="2.2,1.6" fill="none"/>
<path d="M364.58 486.73h3.6M364.58 489.32h3.6" stroke="#00ff00" stroke-width="0.9" fill="none"/>
<path d="M370.16 489.07V491.51" stroke="#00ff00" stroke-width="0.9" stroke-dasharray="2.2,1.6" fill="none"/>
<path d="M368.36 489.07h3.6M368.36 491.51h3.6" stroke="#00ff00" stroke-width="0.9" fill="none"/>
<path d="M373.95 485.36V488.00" stroke="#00ff00" stroke-width="0.9" stroke-dasharray="2.2,1.6" fill="none"/>
<path d="M372.15 485.36h3.6M372.15 488.00h3.6" stroke="#00ff00" stroke-width="0.9" fill="none"/>
<path d="M377.73 489.52V491.88" stroke="#00ff00" stroke-width="0.9" stroke-dasharray="2.2,1.6" fill="none"/>
<path d="M375.93 489.52h3.6M375.93 491.88h3.6" stroke="#00ff00" stroke-width="0.9" fill="none"/>
<path d="M381.52 490.49V492.79" stroke="#00ff00" stroke-width="0.9" stroke-dasharray="2.2,1.6" fill="none"/>
<path d="M379.72 490.49h3.6M379.72 492.79h3.6" stroke="#00ff00" stroke-width="0.9" fill="none"/>
<path d="M385.30 491.56V493.79" stroke="#00ff00" stroke-width="0.9" stroke-dasharray="2.2,1.6" fill="none"/>
<path d="M383.50 491.56h3.6M383.50 493.79h3.6" stroke="#00ff00" stroke-width="0.9" fill="none"/>
<path d="M389.09 490.44V492.63" stroke="#00ff00" stroke-width="0.9" stroke-dasharray="2.2,1.6" fill="none"/>
<path d="M387.29 490.44h3.6M387.29 492.63h3.6" stroke="#00ff00" stroke-width="0.9" fill="none"/>
<path d="M392.88 492.38V494.50" stroke="#00ff00" stroke-width="0.9" stroke-dasharray="2.2,1.6" fill="none"/>
<path d="M391.08 492.38h3.6M391.08 494.50h3.6" stroke="#00ff00" stroke-width="0.9" fill="none"/>
<path d="M396.66 491.24V493.43" stroke="#00ff00" stroke-width="0.9" stroke-dasharray="2.2,1.6" fill="none"/>
<path d="M394.86 491.24h3.6M394.86 493.43h3.6" stroke="#00ff00" stroke-width="0.9" fill="none"/>
<path d="M292.85 368.92l3.2 3.2M292.85 372.12l3.2 -3.2" stroke="#00ff00" stroke-width="1.0"/>
<path d="M296.63 391.28l3.2 3.2M296.63 394.48l3.2 -3.2" stroke="#00ff00" stroke-width="1.0"/>
<path d="M300.42 394.92l3.2 3.2M300.42 398.12l3.2 -3.2" stroke="#00ff00" stroke-width="1.0"/>
<path d="M304.20 415.20l3.2 3.2M304.20 418.40l3.2 -3.2" stroke="#00ff00" stroke-width="1.0"/>
<path d="M307.99 408.70l3.2 3.2M307.99 411.90l3.2 -3.2" stroke="#00ff00" stroke-width="1.0"/>
<path d="M311.78 411.04l3.2 3.2M311.78 414.24l3.2 -3.2" stroke="#00ff00" stroke-width="1.0"/>
<path d="M315.56 423.00l3.2 3.2M315.56 426.20l3.2 -3.2" stroke="#00ff00" stroke-width="1.0"/>
<path d="M319.35 414.42l3.2 3.2M319.35 417.62l3.2 -3.2" stroke="#00ff00" stroke-width="1.0"/>
<path d="M323.13 420.92l3.2 3.2M323.13 424.12l3.2 -3.2" stroke="#00ff00" stroke-width="1.0"/>
<path d="M326.92 443.28l3.2 3.2M326.92 446.48l3.2 -3.2" stroke="#00ff00" stroke-width="1.0"/>
<path d="M330.70 453.68l3.2 3.2M330.70 456.88l3.2 -3.2" stroke="#00ff00" stroke-width="1.0"/>
<path d="M334.49 461.48l3.2 3.2M334.49 464.68l3.2 -3.2" stroke="#00ff00" stroke-width="1.0"/>
<path d="M338.28 469.55l3.2 3.2M338.28 472.75l3.2 -3.2" stroke="#00ff00" stroke-width="1.0"/>
<path d="M342.06 475.42l3.2 3.2M342.06 478.62l3.2 -3.2" stroke="#00ff00" stroke-width="1.0"/>
<path d="M345.85 479.05l3.2 3.2M345.85 482.25l3.2 -3.2" stroke="#00ff00" stroke-width="1.0"/>
<path d="M349.63 478.69l3.2 3.2M349.63 481.89l3.2 -3.2" stroke="#00ff00" stroke-width="1.0"/>
<path d="M353.42 481.64l3.2 3.2M353.42 484.84l3.2 -3.2" stroke="#00ff00" stroke-width="1.0"/>
<path d="M357.20 485.55l3.2 3.2M357.20 488.75l3.2 -3.2" stroke="#00ff00" stroke-width="1.0"/>
<path d="M360.99 487.31l3.2 3.2M360.99 490.51l3.2 -3.2" stroke="#00ff00" stroke-width="1.0"/>
<path d="M364.78 486.43l3.2 3.2M364.78 489.63l3.2 -3.2" stroke="#00ff00" stroke-width="1.0"/>
<path d="M368.56 488.69l3.2 3.2M368.56 491.89l3.2 -3.2" stroke="#00ff00" stroke-width="1.0"/>
<path d="M372.35 485.08l3.2 3.2M372.35 488.28l3.2 -3.2" stroke="#00ff00" stroke-width="1.0"/>
<path d="M376.13 489.10l3.2 3.2M376.13 492.30l3.2 -3.2" stroke="#00ff00" stroke-width="1.0"/>
<path d="M379.92 490.04l3.2 3.2M379.92 493.24l3.2 -3.2" stroke="#00ff00" stroke-width="1.0"/>
<path d="M383.70 491.08l3.2 3.2M383.70 494.28l3.2 -3.2" stroke="#00ff00" stroke-width="1.0"/>
<path d="M387.49 489.94l3.2 3.2M387.49 493.14l3.2 -3.2" stroke="#00ff00" stroke-width="1.0"/>
<path d="M391.28 491.84l3.2 3.2M391.28 495.04l3.2 -3.2" stroke="#00ff00" stroke-width="1.0"/>
<path d="M395.06 490.73l3.2 3.2M395.06 493.93l3.2 -3.2" stroke="#00ff00" stroke-width="1.0"/>
<path d="M283.43 370.00V371.30" stroke="#0000ff" stroke-width="0.95" stroke-dasharray="0.9,1.3" fill="none"/>
<path d="M281.63 371.30h3.6" stroke="#0000ff" stroke-width="0.95" fill="none"/>
<path d="M287.22 370.00V383.26" stroke="#0000ff" stroke-width="0.95" stroke-dasharray="0.9,1.3" fill="none"/>
<path d="M285.42 383.26h3.6" stroke="#0000ff" stroke-width="0.95" fill="none"/>
<path d="M291.00 370.00V372.60" stroke="#0000ff" stroke-width="0.95" stroke-dasharray="0.9,1.3" fill="none"/>
<path d="M289.20 372.60h3.6" stroke="#0000ff" stroke-width="0.95" fill="none"/>
<path d="M294.79 370.00V370.00" stroke="#0000ff" stroke-width="0.95" stroke-dasharray="0.9,1.3" fill="none"/>
<path d="M292.99 370.00h3.6" stroke="#0000ff" stroke-width="0.95" fill="none"/>
<path d="M298.57 381.18V391.58" stroke="#0000ff" stroke-width="0.95" stroke-dasharray="0.9,1.3" fill="none"/>
<path d="M296.77 381.18h3.6M296.77 391.58h3.6" stroke="#0000ff" stroke-width="0.95" fill="none"/>
<path d="M302.36 396.78V407.18" stroke="#0000ff" stroke-width="0.95" stroke-dasharray="0.9,1.3" fill="none"/>
<path d="M300.56 396.78h3.6M300.56 407.18h3.6" stroke="#0000ff" stroke-width="0.95" fill="none"/>
<path d="M306.15 416.28V426.68" stroke="#0000ff" stroke-width="0.95" stroke-dasharray="0.9,1.3" fill="none"/>
<path d="M304.35 416.28h3.6M304.35 426.68h3.6" stroke="#0000ff" stroke-width="0.95" fill="none"/>
<path d="M309.93 406.40V416.80" stroke="#0000ff" stroke-width="0.95" stroke-dasharray="0.9,1.3" fill="none"/>
<path d="M308.13 406.40h3.6M308.13 416.80h3.6" stroke="#0000ff" stroke-width="0.95" fill="none"/>
<path d="M313.72 411.08V421.48" stroke="#0000ff" stroke-width="0.95" stroke-dasharray="0.9,1.3" fill="none"/>
<path d="M311.92 411.08h3.6M311.92 421.48h3.6" stroke="#0000ff" stroke-width="0.95" fill="none"/>
<path d="M317.50 422.26V432.66" stroke="#0000ff" stroke-width="0.95" stroke-dasharray="0.9,1.3" fill="none"/>
<path d="M315.70 422.26h3.6M315.70 432.66h3.6" stroke="#0000ff" stroke-width="0.95" fill="none"/>
<path d="M321.29 421.74V432.14" stroke="#0000ff" stroke-width="0.95" stroke-dasharray="0.9,1.3" fill="none"/>
<path d="M319.49 421.74h3.6M319.49 432.14h3.6" stroke="#0000ff" stroke-width="0.95" fill="none"/>
<path d="M325.07 431.88V442.28" stroke="#0000ff" stroke-width="0.95" stroke-dasharray="0.9,1.3" fill="none"/>
<path d="M323.27 431.88h3.6M323.27 442.28h3.6" stroke="#0000ff" stroke-width="0.95" fill="none"/>
<path d="M328.86 444.36V451.64" stroke="#0000ff" stroke-width="0.95" stroke-dasharray="0.9,1.3" fill="none"/>
<path d="M327.06 444.36h3.6M327.06 451.64h3.6" stroke="#0000ff" stroke-width="0.95" fill="none"/>
<path d="M332.65 454.46V460.78" stroke="#0000ff" stroke-width="0.95" stroke-dasharray="0.9,1.3" fill="none"/>
<path d="M330.85 454.46h3.6M330.85 460.78h3.6" stroke="#0000ff" stroke-width="0.95" fill="none"/>
<path d="M336.43 461.01V466.71" stroke="#0000ff" stroke-width="0.95" stroke-dasharray="0.9,1.3" fill="none"/>
<path d="M334.63 461.01h3.6M334.63 466.71h3.6" stroke="#0000ff" stroke-width="0.95" fill="none"/>
<path d="M340.22 470.31V474.11" stroke="#0000ff" stroke-width="0.95" stroke-dasharray="0.9,1.3" fill="none"/>
<path d="M338.42 470.31h3.6M338.42 474.11h3.6" stroke="#0000ff" stroke-width="0.95" fill="none"/>
<path d="M344.00 476.45V479.79" stroke="#0000ff" stroke-width="0.95" stroke-dasharray="0.9,1.3" fill="none"/>
<path d="M342.20 476.45h3.6M342.20 479.79h3.6" stroke="#0000ff" stroke-width="0.95" fill="none"/>
<path d="M347.79 480.28V483.32" stroke="#0000ff" stroke-width="0.95" stroke-dasharray="0.9,1.3" fill="none"/>
<path d="M345.99 480.28h3.6M345.99 483.32h3.6" stroke="#0000ff" stroke-width="0.95" fill="none"/>
<path d="M351.57 480.16V483.38" stroke="#0000ff" stroke-width="0.95" stroke-dasharray="0.9,1.3" fill="none"/>
<path d="M349.77 480.16h3.6M349.77 483.38h3.6" stroke="#0000ff" stroke-width="0.95" fill="none"/>
<path d="M355.36 482.33V485.21" stroke="#0000ff" stroke-width="0.95" stroke-dasharray="0.9,1.3" fill="none"/>
<path d="M353.56 482.33h3.6M353.56 485.21h3.6" stroke="#0000ff" stroke-width="0.95" fill="none"/>
<path d="M359.15 485.73V488.34" stroke="#0000ff" stroke-width="0.95" stroke-dasharray="0.9,1.3" fill="none"/>
<path d="M357.35 485.73h3.6M357.35 488.34h3.6" stroke="#0000ff" stroke-width="0.95" fill="none"/>
<path d="M362.93 488.30V490.77" stroke="#0000ff" stroke-width="0.95" stroke-dasharray="0.9,1.3" fill="none"/>
<path d="M361.13 488.30h3.6M361.13 490.77h3.6" stroke="#0000ff" stroke-width="0.95" fill="none"/>
<path d="M366.72 487.76V490.19" stroke="#0000ff" stroke-width="0.95" stroke-dasharray="0.9,1.3" fill="none"/>
<path d="M364.92 487.76h3.6M364.92 490.19h3.6" stroke="#0000ff" stroke-width="0.95" fill="none"/>
<path d="M370.50 490.28V492.65" stroke="#0000ff" stroke-width="0.95" stroke-dasharray="0.9,1.3" fill="none"/>
<path d="M368.70 490.28h3.6M368.70 492.65h3.6" stroke="#0000ff" stroke-width="0.95" fill="none"/>
<path d="M374.29 487.18V489.66" stroke="#0000ff" stroke-width="0.95" stroke-dasharray="0.9,1.3" fill="none"/>
<path d="M372.49 487.18h3.6M372.49 489.66h3.6" stroke="#0000ff" stroke-width="0.95" fill="none"/>
<path d="M378.07 489.70V491.95" stroke="#0000ff" stroke-width="0.95" stroke-dasharray="0.9,1.3" fill="none"/>
<path d="M376.27 489.70h3.6M376.27 491.95h3.6" stroke="#0000ff" stroke-width="0.95" fill="none"/>
<path d="M381.86 490.60V492.79" stroke="#0000ff" stroke-width="0.95" stroke-dasharray="0.9,1.3" fill="none"/>
<path d="M380.06 490.60h3.6M380.06 492.79h3.6" stroke="#0000ff" stroke-width="0.95" fill="none"/>
<path d="M385.65 491.90V494.00" stroke="#0000ff" stroke-width="0.95" stroke-dasharray="0.9,1.3" fill="none"/>
<path d="M383.85 491.90h3.6M383.85 494.00h3.6" stroke="#0000ff" stroke-width="0.95" fill="none"/>
<path d="M389.43 492.52V494.63" stroke="#0000ff" stroke-width="0.95" stroke-dasharray="0.9,1.3" fill="none"/>
<path d="M387.63 492.52h3.6M387.63 494.63h3.6" stroke="#0000ff" stroke-width="0.95" fill="none"/>
<path d="M393.22 493.35V495.36" stroke="#0000ff" stroke-width="0.95" stroke-dasharray="0.9,1.3" fill="none"/>
<path d="M391.42 493.35h3.6M391.42 495.36h3.6" stroke="#0000ff" stroke-width="0.95" fill="none"/>
<path d="M397.00 492.06V494.14" stroke="#0000ff" stroke-width="0.95" stroke-dasharray="0.9,1.3" fill="none"/>
<path d="M395.20 492.06h3.6M395.20 494.14h3.6" stroke="#0000ff" stroke-width="0.95" fill="none"/>
<rect x="285.42" y="373.66" width="3.6" height="3.6" fill="#0000ff"/>
<rect x="296.77" y="384.58" width="3.6" height="3.6" fill="#0000ff"/>
<rect x="300.56" y="400.18" width="3.6" height="3.6" fill="#0000ff"/>
<rect x="304.35" y="419.68" width="3.6" height="3.6" fill="#0000ff"/>
<rect x="308.13" y="409.80" width="3.6" height="3.6" fill="#0000ff"/>
<rect x="311.92" y="414.48" width="3.6" height="3.6" fill="#0000ff"/>
<rect x="315.70" y="425.66" width="3.6" height="3.6" fill="#0000ff"/>
<rect x="319.49" y="425.14" width="3.6" height="3.6" fill="#0000ff"/>
<rect x="323.27" y="435.28" width="3.6" height="3.6" fill="#0000ff"/>
<rect x="327.06" y="446.20" width="3.6" height="3.6" fill="#0000ff"/>
<rect x="330.85" y="455.82" width="3.6" height="3.6" fill="#0000ff"/>
<rect x="334.63" y="462.06" width="3.6" height="3.6" fill="#0000ff"/>
<rect x="338.42" y="470.41" width="3.6" height="3.6" fill="#0000ff"/>
<rect x="342.20" y="476.32" width="3.6" height="3.6" fill="#0000ff"/>
<rect x="345.99" y="480.00" width="3.6" height="3.6" fill="#0000ff"/>
<rect x="349.77" y="479.97" width="3.6" height="3.6" fill="#0000ff"/>
<rect x="353.56" y="481.97" width="3.6" height="3.6" fill="#0000ff"/>
<rect x="357.35" y="485.24" width="3.6" height="3.6" fill="#0000ff"/>
<rect x="361.13" y="487.73" width="3.6" height="3.6" fill="#0000ff"/>
<rect x="364.92" y="487.18" width="3.6" height="3.6" fill="#0000ff"/>
<rect x="368.70" y="489.67" width="3.6" height="3.6" fill="#0000ff"/>
<rect x="372.49" y="486.62" width="3.6" height="3.6" fill="#0000ff"/>
<rect x="376.27" y="489.02" width="3.6" height="3.6" fill="#0000ff"/>
<rect x="380.06" y="489.89" width="3.6" height="3.6" fill="#0000ff"/>
<rect x="383.85" y="491.15" width="3.6" height="3.6" fill="#0000ff"/>
<rect x="387.63" y="491.78" width="3.6" height="3.6" fill="#0000ff"/>
<rect x="391.42" y="492.56" width="3.6" height="3.6" fill="#0000ff"/>
<rect x="395.20" y="491.30" width="3.6" height="3.6" fill="#0000ff"/>
<path d="M282.98 370.00V379.36" stroke="#ff00ff" stroke-width="0.65"  fill="none"/>
<path d="M281.18 379.36h3.6" stroke="#ff00ff" stroke-width="0.65" fill="none"/>
<path d="M286.76 370.00V370.00" stroke="#ff00ff" stroke-width="0.65"  fill="none"/>
<path d="M284.96 370.00h3.6" stroke="#ff00ff" stroke-width="0.65" fill="none"/>
<path d="M290.55 370.00V380.92" stroke="#ff00ff" stroke-width="0.65"  fill="none"/>
<path d="M288.75 380.92h3.6" stroke="#ff00ff" stroke-width="0.65" fill="none"/>
<path d="M294.33 370.00V370.00" stroke="#ff00ff" stroke-width="0.65"  fill="none"/>
<path d="M292.53 370.00h3.6" stroke="#ff00ff" stroke-width="0.65" fill="none"/>
<path d="M298.12 393.40V403.80" stroke="#ff00ff" stroke-width="0.65"  fill="none"/>
<path d="M296.32 393.40h3.6M296.32 403.80h3.6" stroke="#ff00ff" stroke-width="0.65" fill="none"/>
<path d="M301.91 387.42V397.82" stroke="#ff00ff" stroke-width="0.65"  fill="none"/>
<path d="M300.11 387.42h3.6M300.11 397.82h3.6" stroke="#ff00ff" stroke-width="0.65" fill="none"/>
<path d="M305.69 412.90V423.30" stroke="#ff00ff" stroke-width="0.65"  fill="none"/>
<path d="M303.89 412.90h3.6M303.89 423.30h3.6" stroke="#ff00ff" stroke-width="0.65" fill="none"/>
<path d="M309.48 406.92V417.32" stroke="#ff00ff" stroke-width="0.65"  fill="none"/>
<path d="M307.68 406.92h3.6M307.68 417.32h3.6" stroke="#ff00ff" stroke-width="0.65" fill="none"/>
<path d="M313.26 407.96V418.36" stroke="#ff00ff" stroke-width="0.65"  fill="none"/>
<path d="M311.46 407.96h3.6M311.46 418.36h3.6" stroke="#ff00ff" stroke-width="0.65" fill="none"/>
<path d="M317.05 426.94V437.34" stroke="#ff00ff" stroke-width="0.65"  fill="none"/>
<path d="M315.25 426.94h3.6M315.25 437.34h3.6" stroke="#ff00ff" stroke-width="0.65" fill="none"/>
<path d="M320.83 418.36V428.76" stroke="#ff00ff" stroke-width="0.65"  fill="none"/>
<path d="M319.03 418.36h3.6M319.03 428.76h3.6" stroke="#ff00ff" stroke-width="0.65" fill="none"/>
<path d="M324.62 427.98V438.38" stroke="#ff00ff" stroke-width="0.65"  fill="none"/>
<path d="M322.82 427.98h3.6M322.82 438.38h3.6" stroke="#ff00ff" stroke-width="0.65" fill="none"/>
<path d="M328.41 443.81V451.15" stroke="#ff00ff" stroke-width="0.65"  fill="none"/>
<path d="M326.61 443.81h3.6M326.61 451.15h3.6" stroke="#ff00ff" stroke-width="0.65" fill="none"/>
<path d="M332.19 452.82V459.30" stroke="#ff00ff" stroke-width="0.65"  fill="none"/>
<path d="M330.39 452.82h3.6M330.39 459.30h3.6" stroke="#ff00ff" stroke-width="0.65" fill="none"/>
<path d="M335.98 462.11V467.69" stroke="#ff00ff" stroke-width="0.65"  fill="none"/>
<path d="M334.18 462.11h3.6M334.18 467.69h3.6" stroke="#ff00ff" stroke-width="0.65" fill="none"/>
<path d="M339.76 470.35V474.40" stroke="#ff00ff" stroke-width="0.65"  fill="none"/>
<path d="M337.96 470.35h3.6M337.96 474.40h3.6" stroke="#ff00ff" stroke-width="0.65" fill="none"/>
<path d="M343.55 476.76V480.25" stroke="#ff00ff" stroke-width="0.65"  fill="none"/>
<path d="M341.75 476.76h3.6M341.75 480.25h3.6" stroke="#ff00ff" stroke-width="0.65" fill="none"/>
<path d="M347.33 480.52V483.69" stroke="#ff00ff" stroke-width="0.65"  fill="none"/>
<path d="M345.53 480.52h3.6M345.53 483.69h3.6" stroke="#ff00ff" stroke-width="0.65" fill="none"/>
<path d="M351.12 479.53V482.79" stroke="#ff00ff" stroke-width="0.65"  fill="none"/>
<path d="M349.32 479.53h3.6M349.32 482.79h3.6" stroke="#ff00ff" stroke-width="0.65" fill="none"/>
<path d="M354.91 482.86V485.83" stroke="#ff00ff" stroke-width="0.65"  fill="none"/>
<path d="M353.11 482.86h3.6M353.11 485.83h3.6" stroke="#ff00ff" stroke-width="0.65" fill="none"/>
<path d="M358.69 486.22V488.90" stroke="#ff00ff" stroke-width="0.65"  fill="none"/>
<path d="M356.89 486.22h3.6M356.89 488.90h3.6" stroke="#ff00ff" stroke-width="0.65" fill="none"/>
<path d="M362.48 488.24V490.75" stroke="#ff00ff" stroke-width="0.65"  fill="none"/>
<path d="M360.68 488.24h3.6M360.68 490.75h3.6" stroke="#ff00ff" stroke-width="0.65" fill="none"/>
<path d="M366.26 487.76V490.31" stroke="#ff00ff" stroke-width="0.65"  fill="none"/>
<path d="M364.46 487.76h3.6M364.46 490.31h3.6" stroke="#ff00ff" stroke-width="0.65" fill="none"/>
<path d="M370.05 489.64V492.03" stroke="#ff00ff" stroke-width="0.65"  fill="none"/>
<path d="M368.25 489.64h3.6M368.25 492.03h3.6" stroke="#ff00ff" stroke-width="0.65" fill="none"/>
<path d="M373.83 486.82V489.44" stroke="#ff00ff" stroke-width="0.65"  fill="none"/>
<path d="M372.03 486.82h3.6M372.03 489.44h3.6" stroke="#ff00ff" stroke-width="0.65" fill="none"/>
<path d="M377.62 489.99V492.35" stroke="#ff00ff" stroke-width="0.65"  fill="none"/>
<path d="M375.82 489.99h3.6M375.82 492.35h3.6" stroke="#ff00ff" stroke-width="0.65" fill="none"/>
<path d="M381.41 490.94V493.22" stroke="#ff00ff" stroke-width="0.65"  fill="none"/>
<path d="M379.61 490.94h3.6M379.61 493.22h3.6" stroke="#ff00ff" stroke-width="0.65" fill="none"/>
<path d="M385.19 492.01V494.19" stroke="#ff00ff" stroke-width="0.65"  fill="none"/>
<path d="M383.39 492.01h3.6M383.39 494.19h3.6" stroke="#ff00ff" stroke-width="0.65" fill="none"/>
<path d="M388.98 491.83V494.03" stroke="#ff00ff" stroke-width="0.65"  fill="none"/>
<path d="M387.18 491.83h3.6M387.18 494.03h3.6" stroke="#ff00ff" stroke-width="0.65" fill="none"/>
<path d="M392.76 492.93V495.03" stroke="#ff00ff" stroke-width="0.65"  fill="none"/>
<path d="M390.96 492.93h3.6M390.96 495.03h3.6" stroke="#ff00ff" stroke-width="0.65" fill="none"/>
<path d="M396.55 492.66V494.79" stroke="#ff00ff" stroke-width="0.65"  fill="none"/>
<path d="M394.75 492.66h3.6M394.75 494.79h3.6" stroke="#ff00ff" stroke-width="0.65" fill="none"/>
<rect x="280.88" y="369.46" width="4.2" height="4.2" fill="none" stroke="#ff00ff" stroke-width="1.1"/>
<rect x="288.45" y="371.02" width="4.2" height="4.2" fill="none" stroke="#ff00ff" stroke-width="1.1"/>
<rect x="296.02" y="396.50" width="4.2" height="4.2" fill="none" stroke="#ff00ff" stroke-width="1.1"/>
<rect x="299.81" y="390.52" width="4.2" height="4.2" fill="none" stroke="#ff00ff" stroke-width="1.1"/>
<rect x="303.59" y="416.00" width="4.2" height="4.2" fill="none" stroke="#ff00ff" stroke-width="1.1"/>
<rect x="307.38" y="410.02" width="4.2" height="4.2" fill="none" stroke="#ff00ff" stroke-width="1.1"/>
<rect x="311.16" y="411.06" width="4.2" height="4.2" fill="none" stroke="#ff00ff" stroke-width="1.1"/>
<rect x="314.95" y="430.04" width="4.2" height="4.2" fill="none" stroke="#ff00ff" stroke-width="1.1"/>
<rect x="318.73" y="421.46" width="4.2" height="4.2" fill="none" stroke="#ff00ff" stroke-width="1.1"/>
<rect x="322.52" y="431.08" width="4.2" height="4.2" fill="none" stroke="#ff00ff" stroke-width="1.1"/>
<rect x="326.31" y="445.38" width="4.2" height="4.2" fill="none" stroke="#ff00ff" stroke-width="1.1"/>
<rect x="330.09" y="453.96" width="4.2" height="4.2" fill="none" stroke="#ff00ff" stroke-width="1.1"/>
<rect x="333.88" y="462.80" width="4.2" height="4.2" fill="none" stroke="#ff00ff" stroke-width="1.1"/>
<rect x="337.66" y="470.27" width="4.2" height="4.2" fill="none" stroke="#ff00ff" stroke-width="1.1"/>
<rect x="341.45" y="476.41" width="4.2" height="4.2" fill="none" stroke="#ff00ff" stroke-width="1.1"/>
<rect x="345.23" y="480.01" width="4.2" height="4.2" fill="none" stroke="#ff00ff" stroke-width="1.1"/>
<rect x="349.02" y="479.06" width="4.2" height="4.2" fill="none" stroke="#ff00ff" stroke-width="1.1"/>
<rect x="352.81" y="482.25" width="4.2" height="4.2" fill="none" stroke="#ff00ff" stroke-width="1.1"/>
<rect x="356.59" y="485.46" width="4.2" height="4.2" fill="none" stroke="#ff00ff" stroke-width="1.1"/>
<rect x="360.38" y="487.39" width="4.2" height="4.2" fill="none" stroke="#ff00ff" stroke-width="1.1"/>
<rect x="364.16" y="486.93" width="4.2" height="4.2" fill="none" stroke="#ff00ff" stroke-width="1.1"/>
<rect x="367.95" y="488.73" width="4.2" height="4.2" fill="none" stroke="#ff00ff" stroke-width="1.1"/>
<rect x="371.73" y="486.03" width="4.2" height="4.2" fill="none" stroke="#ff00ff" stroke-width="1.1"/>
<rect x="375.52" y="489.07" width="4.2" height="4.2" fill="none" stroke="#ff00ff" stroke-width="1.1"/>
<rect x="379.31" y="489.98" width="4.2" height="4.2" fill="none" stroke="#ff00ff" stroke-width="1.1"/>
<rect x="383.09" y="491.00" width="4.2" height="4.2" fill="none" stroke="#ff00ff" stroke-width="1.1"/>
<rect x="386.88" y="490.83" width="4.2" height="4.2" fill="none" stroke="#ff00ff" stroke-width="1.1"/>
<rect x="390.66" y="491.88" width="4.2" height="4.2" fill="none" stroke="#ff00ff" stroke-width="1.1"/>
<rect x="394.45" y="491.63" width="4.2" height="4.2" fill="none" stroke="#ff00ff" stroke-width="1.1"/>
</g>
<path d="M44.30 136.20v-3.5M44.30 6.20v3.5M72.78 136.20v-3.5M72.78 6.20v3.5M101.27 136.20v-3.5M101.27 6.20v3.5M129.75 136.20v-3.5M129.75 6.20v3.5M158.23 136.20v-3.5M158.23 6.20v3.5M186.72 136.20v-3.5M186.72 6.20v3.5M215.20 136.20v-3.5M215.20 6.20v3.5M44.30 136.20h3.5M215.20 136.20h-3.5M44.30 92.87h3.5M215.20 92.87h-3.5M44.30 49.53h3.5M215.20 49.53h-3.5M44.30 6.20h3.5M215.20 6.20h-3.5M44.30 123.16h1.8M215.20 123.16h-1.8M44.30 115.52h1.8M215.20 115.52h-1.8M44.30 110.11h1.8M215.20 110.11h-1.8M44.30 105.91h1.8M215.20 105.91h-1.8M44.30 102.48h1.8M215.20 102.48h-1.8M44.30 99.58h1.8M215.20 99.58h-1.8M44.30 97.07h1.8M215.20 97.07h-1.8M44.30 94.85h1.8M215.20 94.85h-1.8M44.30 79.82h1.8M215.20 79.82h-1.8M44.30 72.19h1.8M215.20 72.19h-1.8M44.30 66.78h1.8M215.20 66.78h-1.8M44.30 62.58h1.8M215.20 62.58h-1.8M44.30 59.15h1.8M215.20 59.15h-1.8M44.30 56.25h1.8M215.20 56.25h-1.8M44.30 53.73h1.8M215.20 53.73h-1.8M44.30 51.52h1.8M215.20 51.52h-1.8M44.30 36.49h1.8M215.20 36.49h-1.8M44.30 28.86h1.8M215.20 28.86h-1.8M44.30 23.44h1.8M215.20 23.44h-1.8M44.30 19.24h1.8M215.20 19.24h-1.8M44.30 15.81h1.8M215.20 15.81h-1.8M44.30 12.91h1.8M215.20 12.91h-1.8M44.30 10.40h1.8M215.20 10.40h-1.8M44.30 8.18h1.8M215.20 8.18h-1.8" stroke="#2a2a2a" stroke-width="0.9" fill="none"/>
<rect x="44.30" y="6.20" width="170.90" height="130.00" fill="none" stroke="#2a2a2a" stroke-width="1.1"/>
<path d="M260.20 136.20v-3.5M260.20 6.20v3.5M288.60 136.20v-3.5M288.60 6.20v3.5M317.00 136.20v-3.5M317.00 6.20v3.5M345.40 136.20v-3.5M345.40 6.20v3.5M373.80 136.20v-3.5M373.80 6.20v3.5M402.20 136.20v-3.5M402.20 6.20v3.5M430.60 136.20v-3.5M430.60 6.20v3.5M260.20 136.20h3.5M430.60 136.20h-3.5M260.20 92.87h3.5M430.60 92.87h-3.5M260.20 49.53h3.5M430.60 49.53h-3.5M260.20 6.20h3.5M430.60 6.20h-3.5M260.20 123.16h1.8M430.60 123.16h-1.8M260.20 115.52h1.8M430.60 115.52h-1.8M260.20 110.11h1.8M430.60 110.11h-1.8M260.20 105.91h1.8M430.60 105.91h-1.8M260.20 102.48h1.8M430.60 102.48h-1.8M260.20 99.58h1.8M430.60 99.58h-1.8M260.20 97.07h1.8M430.60 97.07h-1.8M260.20 94.85h1.8M430.60 94.85h-1.8M260.20 79.82h1.8M430.60 79.82h-1.8M260.20 72.19h1.8M430.60 72.19h-1.8M260.20 66.78h1.8M430.60 66.78h-1.8M260.20 62.58h1.8M430.60 62.58h-1.8M260.20 59.15h1.8M430.60 59.15h-1.8M260.20 56.25h1.8M430.60 56.25h-1.8M260.20 53.73h1.8M430.60 53.73h-1.8M260.20 51.52h1.8M430.60 51.52h-1.8M260.20 36.49h1.8M430.60 36.49h-1.8M260.20 28.86h1.8M430.60 28.86h-1.8M260.20 23.44h1.8M430.60 23.44h-1.8M260.20 19.24h1.8M430.60 19.24h-1.8M260.20 15.81h1.8M430.60 15.81h-1.8M260.20 12.91h1.8M430.60 12.91h-1.8M260.20 10.40h1.8M430.60 10.40h-1.8M260.20 8.18h1.8M430.60 8.18h-1.8" stroke="#2a2a2a" stroke-width="0.9" fill="none"/>
<rect x="260.20" y="6.20" width="170.40" height="130.00" fill="none" stroke="#2a2a2a" stroke-width="1.1"/>
<path d="M44.30 316.20v-3.5M44.30 186.20v3.5M72.78 316.20v-3.5M72.78 186.20v3.5M101.27 316.20v-3.5M101.27 186.20v3.5M129.75 316.20v-3.5M129.75 186.20v3.5M158.23 316.20v-3.5M158.23 186.20v3.5M186.72 316.20v-3.5M186.72 186.20v3.5M215.20 316.20v-3.5M215.20 186.20v3.5M44.30 316.20h3.5M215.20 316.20h-3.5M44.30 290.20h3.5M215.20 290.20h-3.5M44.30 264.20h3.5M215.20 264.20h-3.5M44.30 238.20h3.5M215.20 238.20h-3.5M44.30 212.20h3.5M215.20 212.20h-3.5M44.30 186.20h3.5M215.20 186.20h-3.5" stroke="#2a2a2a" stroke-width="0.9" fill="none"/>
<rect x="44.30" y="186.20" width="170.90" height="130.00" fill="none" stroke="#2a2a2a" stroke-width="1.1"/>
<path d="M260.20 316.20v-3.5M260.20 186.20v3.5M288.60 316.20v-3.5M288.60 186.20v3.5M317.00 316.20v-3.5M317.00 186.20v3.5M345.40 316.20v-3.5M345.40 186.20v3.5M373.80 316.20v-3.5M373.80 186.20v3.5M402.20 316.20v-3.5M402.20 186.20v3.5M430.60 316.20v-3.5M430.60 186.20v3.5M260.20 316.20h3.5M430.60 316.20h-3.5M260.20 290.20h3.5M430.60 290.20h-3.5M260.20 264.20h3.5M430.60 264.20h-3.5M260.20 238.20h3.5M430.60 238.20h-3.5M260.20 212.20h3.5M430.60 212.20h-3.5M260.20 186.20h3.5M430.60 186.20h-3.5" stroke="#2a2a2a" stroke-width="0.9" fill="none"/>
<rect x="260.20" y="186.20" width="170.40" height="130.00" fill="none" stroke="#2a2a2a" stroke-width="1.1"/>
<path d="M44.30 500.00v-3.5M44.30 370.00v3.5M72.78 500.00v-3.5M72.78 370.00v3.5M101.27 500.00v-3.5M101.27 370.00v3.5M129.75 500.00v-3.5M129.75 370.00v3.5M158.23 500.00v-3.5M158.23 370.00v3.5M186.72 500.00v-3.5M186.72 370.00v3.5M215.20 500.00v-3.5M215.20 370.00v3.5M44.30 500.00h3.5M215.20 500.00h-3.5M44.30 474.00h3.5M215.20 474.00h-3.5M44.30 448.00h3.5M215.20 448.00h-3.5M44.30 422.00h3.5M215.20 422.00h-3.5M44.30 396.00h3.5M215.20 396.00h-3.5M44.30 370.00h3.5M215.20 370.00h-3.5" stroke="#2a2a2a" stroke-width="0.9" fill="none"/>
<rect x="44.30" y="370.00" width="170.90" height="130.00" fill="none" stroke="#2a2a2a" stroke-width="1.1"/>
<path d="M260.20 500.00v-3.5M260.20 370.00v3.5M288.60 500.00v-3.5M288.60 370.00v3.5M317.00 500.00v-3.5M317.00 370.00v3.5M345.40 500.00v-3.5M345.40 370.00v3.5M373.80 500.00v-3.5M373.80 370.00v3.5M402.20 500.00v-3.5M402.20 370.00v3.5M430.60 500.00v-3.5M430.60 370.00v3.5M260.20 500.00h3.5M430.60 500.00h-3.5M260.20 474.00h3.5M430.60 474.00h-3.5M260.20 448.00h3.5M430.60 448.00h-3.5M260.20 422.00h3.5M430.60 422.00h-3.5M260.20 396.00h3.5M430.60 396.00h-3.5M260.20 370.00h3.5M430.60 370.00h-3.5" stroke="#2a2a2a" stroke-width="0.9" fill="none"/>
<rect x="260.20" y="370.00" width="170.40" height="130.00" fill="none" stroke="#2a2a2a" stroke-width="1.1"/>
<text x="181.30" y="195.80" font-family='"Liberation Sans", sans-serif' font-size="7.5" text-anchor="end" fill="#222" >126348</text>
<path d="M184.80 193.20H206.60" stroke="#ff0000" stroke-width="1.1"  fill="none"/>
<path d="M184.80 191.40v3.6M206.60 191.40v3.6" stroke="#ff0000" stroke-width="1.0" fill="none"/>
<path d="M193.70 193.20h4M195.70 191.20v4" stroke="#ff0000" stroke-width="1.1"/>
<text x="181.30" y="203.20" font-family='"Liberation Sans", sans-serif' font-size="7.5" text-anchor="end" fill="#222" >126349</text>
<path d="M184.80 200.60H206.60" stroke="#00ff00" stroke-width="1.0" stroke-dasharray="2.2,1.6" fill="none"/>
<path d="M184.80 198.80v3.6M206.60 198.80v3.6" stroke="#00ff00" stroke-width="0.9" fill="none"/>
<path d="M194.10 199.00l3.2 3.2M194.10 202.20l3.2 -3.2" stroke="#00ff00" stroke-width="1.0"/>
<text x="181.30" y="210.60" font-family='"Liberation Sans", sans-serif' font-size="7.5" text-anchor="end" fill="#222" >126350</text>
<path d="M184.80 208.00H206.60" stroke="#0000ff" stroke-width="1.05" stroke-dasharray="0.9,1.3" fill="none"/>
<path d="M184.80 206.20v3.6M206.60 206.20v3.6" stroke="#0000ff" stroke-width="0.95" fill="none"/>
<rect x="193.90" y="206.20" width="3.6" height="3.6" fill="#0000ff"/>
<text x="181.30" y="218.00" font-family='"Liberation Sans", sans-serif' font-size="7.5" text-anchor="end" fill="#222" >126351</text>
<path d="M184.80 215.40H206.60" stroke="#ff00ff" stroke-width="0.75"  fill="none"/>
<path d="M184.80 213.60v3.6M206.60 213.60v3.6" stroke="#ff00ff" stroke-width="0.65" fill="none"/>
<rect x="193.60" y="213.30" width="4.2" height="4.2" fill="none" stroke="#ff00ff" stroke-width="1.1"/>
<text x="181.30" y="225.40" font-family='"Liberation Sans", sans-serif' font-size="7.5" text-anchor="end" fill="#222" >126352</text>
<path d="M184.80 222.80H206.60" stroke="#00ffff" stroke-width="1.05" stroke-dasharray="3,1.2,1,1.2" fill="none"/>
<path d="M184.80 221.00v3.6M206.60 221.00v3.6" stroke="#00ffff" stroke-width="0.95" fill="none"/>
<rect x="193.70" y="220.80" width="4" height="4" fill="#00ffff"/>
<text x="397.00" y="195.80" font-family='"Liberation Sans", sans-serif' font-size="7.5" text-anchor="end" fill="#222" >126330</text>
<path d="M400.10 193.20H422.50" stroke="#ff0000" stroke-width="1.1"  fill="none"/>
<path d="M400.10 191.40v3.6M422.50 191.40v3.6" stroke="#ff0000" stroke-width="1.0" fill="none"/>
<path d="M409.30 193.20h4M411.30 191.20v4" stroke="#ff0000" stroke-width="1.1"/>
<text x="397.00" y="203.20" font-family='"Liberation Sans", sans-serif' font-size="7.5" text-anchor="end" fill="#222" >126331</text>
<path d="M400.10 200.60H422.50" stroke="#00ff00" stroke-width="1.0" stroke-dasharray="2.2,1.6" fill="none"/>
<path d="M400.10 198.80v3.6M422.50 198.80v3.6" stroke="#00ff00" stroke-width="0.9" fill="none"/>
<path d="M409.70 199.00l3.2 3.2M409.70 202.20l3.2 -3.2" stroke="#00ff00" stroke-width="1.0"/>
<text x="397.00" y="210.60" font-family='"Liberation Sans", sans-serif' font-size="7.5" text-anchor="end" fill="#222" >126332</text>
<path d="M400.10 208.00H422.50" stroke="#0000ff" stroke-width="1.05" stroke-dasharray="0.9,1.3" fill="none"/>
<path d="M400.10 206.20v3.6M422.50 206.20v3.6" stroke="#0000ff" stroke-width="0.95" fill="none"/>
<rect x="409.50" y="206.20" width="3.6" height="3.6" fill="#0000ff"/>
<text x="397.00" y="218.00" font-family='"Liberation Sans", sans-serif' font-size="7.5" text-anchor="end" fill="#222" >126333</text>
<path d="M400.10 215.40H422.50" stroke="#ff00ff" stroke-width="0.75"  fill="none"/>
<path d="M400.10 213.60v3.6M422.50 213.60v3.6" stroke="#ff00ff" stroke-width="0.65" fill="none"/>
<rect x="409.20" y="213.30" width="4.2" height="4.2" fill="none" stroke="#ff00ff" stroke-width="1.1"/>
<text x="181.30" y="379.90" font-family='"Liberation Sans", sans-serif' font-size="7.5" text-anchor="end" fill="#222" >126348</text>
<path d="M184.80 377.30H206.60" stroke="#ff0000" stroke-width="1.1"  fill="none"/>
<path d="M184.80 375.50v3.6M206.60 375.50v3.6" stroke="#ff0000" stroke-width="1.0" fill="none"/>
<path d="M193.70 377.30h4M195.70 375.30v4" stroke="#ff0000" stroke-width="1.1"/>
<text x="181.30" y="387.20" font-family='"Liberation Sans", sans-serif' font-size="7.5" text-anchor="end" fill="#222" >126349</text>
<path d="M184.80 384.60H206.60" stroke="#00ff00" stroke-width="1.0" stroke-dasharray="2.2,1.6" fill="none"/>
<path d="M184.80 382.80v3.6M206.60 382.80v3.6" stroke="#00ff00" stroke-width="0.9" fill="none"/>
<path d="M194.10 383.00l3.2 3.2M194.10 386.20l3.2 -3.2" stroke="#00ff00" stroke-width="1.0"/>
<text x="181.30" y="394.60" font-family='"Liberation Sans", sans-serif' font-size="7.5" text-anchor="end" fill="#222" >126350</text>
<path d="M184.80 392.00H206.60" stroke="#0000ff" stroke-width="1.05" stroke-dasharray="0.9,1.3" fill="none"/>
<path d="M184.80 390.20v3.6M206.60 390.20v3.6" stroke="#0000ff" stroke-width="0.95" fill="none"/>
<rect x="193.90" y="390.20" width="3.6" height="3.6" fill="#0000ff"/>
<text x="181.30" y="401.90" font-family='"Liberation Sans", sans-serif' font-size="7.5" text-anchor="end" fill="#222" >126351</text>
<path d="M184.80 399.30H206.60" stroke="#ff00ff" stroke-width="0.75"  fill="none"/>
<path d="M184.80 397.50v3.6M206.60 397.50v3.6" stroke="#ff00ff" stroke-width="0.65" fill="none"/>
<rect x="193.60" y="397.20" width="4.2" height="4.2" fill="none" stroke="#ff00ff" stroke-width="1.1"/>
<text x="181.30" y="409.30" font-family='"Liberation Sans", sans-serif' font-size="7.5" text-anchor="end" fill="#222" >126352</text>
<path d="M184.80 406.70H206.60" stroke="#00ffff" stroke-width="1.05" stroke-dasharray="3,1.2,1,1.2" fill="none"/>
<path d="M184.80 404.90v3.6M206.60 404.90v3.6" stroke="#00ffff" stroke-width="0.95" fill="none"/>
<rect x="193.70" y="404.70" width="4" height="4" fill="#00ffff"/>
<text x="397.00" y="379.90" font-family='"Liberation Sans", sans-serif' font-size="7.5" text-anchor="end" fill="#222" >126330</text>
<path d="M400.10 377.30H422.50" stroke="#ff0000" stroke-width="1.1"  fill="none"/>
<path d="M400.10 375.50v3.6M422.50 375.50v3.6" stroke="#ff0000" stroke-width="1.0" fill="none"/>
<path d="M409.30 377.30h4M411.30 375.30v4" stroke="#ff0000" stroke-width="1.1"/>
<text x="397.00" y="387.20" font-family='"Liberation Sans", sans-serif' font-size="7.5" text-anchor="end" fill="#222" >126331</text>
<path d="M400.10 384.60H422.50" stroke="#00ff00" stroke-width="1.0" stroke-dasharray="2.2,1.6" fill="none"/>
<path d="M400.10 382.80v3.6M422.50 382.80v3.6" stroke="#00ff00" stroke-width="0.9" fill="none"/>
<path d="M409.70 383.00l3.2 3.2M409.70 386.20l3.2 -3.2" stroke="#00ff00" stroke-width="1.0"/>
<text x="397.00" y="394.60" font-family='"Liberation Sans", sans-serif' font-size="7.5" text-anchor="end" fill="#222" >126332</text>
<path d="M400.10 392.00H422.50" stroke="#0000ff" stroke-width="1.05" stroke-dasharray="0.9,1.3" fill="none"/>
<path d="M400.10 390.20v3.6M422.50 390.20v3.6" stroke="#0000ff" stroke-width="0.95" fill="none"/>
<rect x="409.50" y="390.20" width="3.6" height="3.6" fill="#0000ff"/>
<text x="397.00" y="401.90" font-family='"Liberation Sans", sans-serif' font-size="7.5" text-anchor="end" fill="#222" >126333</text>
<path d="M400.10 399.30H422.50" stroke="#ff00ff" stroke-width="0.75"  fill="none"/>
<path d="M400.10 397.50v3.6M422.50 397.50v3.6" stroke="#ff00ff" stroke-width="0.65" fill="none"/>
<rect x="409.20" y="397.20" width="4.2" height="4.2" fill="none" stroke="#ff00ff" stroke-width="1.1"/>
<path d="M86.90 116.00V135.20" stroke="#999" stroke-width="1.1"/>
<path d="M85.00 130.70L86.90 136.20L88.80 130.70" stroke="#444" stroke-width="0.9" fill="#444"/>
<path d="M305.50 116.00V135.20" stroke="#444" stroke-width="1.1"/>
<path d="M303.60 130.70L305.50 136.20L307.40 130.70" stroke="#444" stroke-width="0.9" fill="#444"/>
<path d="M87.00 303.50V315.20" stroke="#777" stroke-width="1.1"/>
<path d="M85.60 312.00L87.00 316.20L88.40 312.00" stroke="#333" stroke-width="0.9" fill="#333"/>
<path d="M302.40 303.70V315.20" stroke="#333" stroke-width="1.1"/>
<path d="M301.00 312.00L302.40 316.20L303.80 312.00" stroke="#333" stroke-width="0.9" fill="#333"/>
<path d="M86.90 474.60V499.00" stroke="#999" stroke-width="1.1"/>
<path d="M85.00 494.50L86.90 500.00L88.80 494.50" stroke="#444" stroke-width="0.9" fill="#444"/>
<path d="M305.50 474.60V499.00" stroke="#444" stroke-width="1.1"/>
<path d="M303.60 494.50L305.50 500.00L307.40 494.50" stroke="#444" stroke-width="0.9" fill="none"/>
<text transform="translate(24.20,71.50) rotate(-90)" font-family='"Liberation Sans", sans-serif' font-size="7.5" text-anchor="middle" fill="#222">L<tspan font-size="6" dy="2.2">C</tspan><tspan dy="-2.2"> [m]</tspan></text>
<text transform="translate(239.80,71.50) rotate(-90)" font-family='"Liberation Sans", sans-serif' font-size="7.5" text-anchor="middle" fill="#222">L<tspan font-size="6" dy="2.2">C</tspan><tspan dy="-2.2"> [m]</tspan></text>
<text transform="translate(16.00,251.20) rotate(-90)" font-family='"Liberation Sans", sans-serif' font-size="7.5" text-anchor="middle" fill="#222">E<tspan font-size="6" dy="2.2">r</tspan><tspan dy="-2.2"> [kV/m]</tspan></text>
<text transform="translate(231.60,251.20) rotate(-90)" font-family='"Liberation Sans", sans-serif' font-size="7.5" text-anchor="middle" fill="#222">E<tspan font-size="6" dy="2.2">r</tspan><tspan dy="-2.2"> [kV/m]</tspan></text>
<text transform="translate(8.00,435.50) rotate(-90)" font-family='"Liberation Sans", sans-serif' font-size="7.5" text-anchor="middle" fill="#222">T<tspan font-size="6" dy="2.2">e</tspan><tspan dy="-2.2"> [keV]</tspan></text>
<text transform="translate(231.00,435.50) rotate(-90)" font-family='"Liberation Sans", sans-serif' font-size="7.5" text-anchor="middle" fill="#222">T<tspan font-size="6" dy="2.2">e</tspan><tspan dy="-2.2"> [eV]</tspan></text>
<text x="130.20" y="171.60" font-family='"Liberation Serif", serif' font-size="10" text-anchor="middle" fill="#111" >(a)</text>
<text x="346.50" y="171.60" font-family='"Liberation Serif", serif' font-size="10" text-anchor="middle" fill="#111" >(b)</text>
<text x="130.20" y="356.90" font-family='"Liberation Serif", serif' font-size="10" text-anchor="middle" fill="#111" >(c)</text>
<text x="346.50" y="356.90" font-family='"Liberation Serif", serif' font-size="10" text-anchor="middle" fill="#111" >(d)</text>
<text x="130.40" y="538.60" font-family='"Liberation Serif", serif' font-size="10" text-anchor="middle" fill="#111" >(e)</text>
<text x="346.50" y="538.60" font-family='"Liberation Serif", serif' font-size="10" text-anchor="middle" fill="#111" >(f)</text>
</svg></body></html>
